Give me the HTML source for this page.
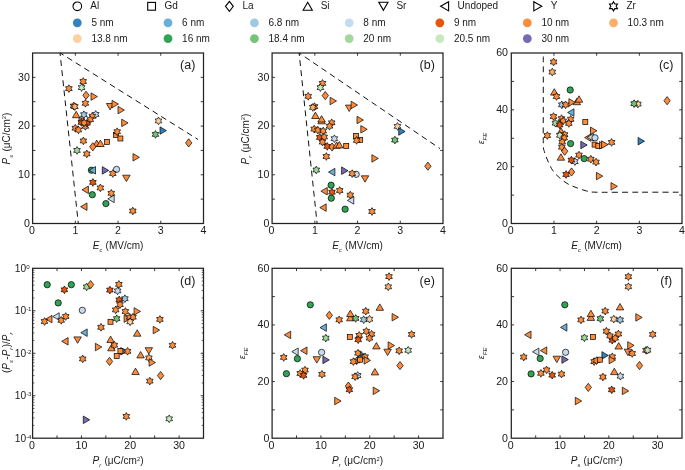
<!DOCTYPE html><html><head><meta charset="utf-8"><style>html,body{margin:0;padding:0;background:#fff;overflow:hidden}svg{display:block;will-change:transform}text{font-family:"Liberation Sans",sans-serif;fill:#1a1a1a}</style></head><body>
<svg width="685" height="470" viewBox="0 0 685 470">
<circle cx="77.3" cy="6.3" r="4.3" fill="none" stroke="#000" stroke-width="1.1"/>
<text x="90.3" y="9.2" font-size="10">Al</text>
<rect x="147.7" y="2.4" width="7.8" height="7.8" fill="none" stroke="#000" stroke-width="1.1"/>
<text x="164.6" y="9.2" font-size="10">Gd</text>
<polygon points="229.40,1.30 233.30,6.30 229.40,11.30 225.50,6.30" fill="none" stroke="#000" stroke-width="1.1" stroke-linejoin="miter"/>
<text x="242.4" y="9.2" font-size="10">La</text>
<polygon points="307.70,2.30 312.30,10.30 303.10,10.30" fill="none" stroke="#000" stroke-width="1.1" stroke-linejoin="miter"/>
<text x="320.7" y="9.2" font-size="10">Si</text>
<polygon points="383.40,10.30 388.00,2.30 378.80,2.30" fill="none" stroke="#000" stroke-width="1.1" stroke-linejoin="miter"/>
<text x="396.4" y="9.2" font-size="10">Sr</text>
<polygon points="440.60,6.30 448.60,1.70 448.60,10.90" fill="none" stroke="#000" stroke-width="1.1" stroke-linejoin="miter"/>
<text x="457.6" y="9.2" font-size="10">Undoped</text>
<polygon points="541.80,6.30 533.80,1.70 533.80,10.90" fill="none" stroke="#000" stroke-width="1.1" stroke-linejoin="miter"/>
<text x="550.8" y="9.2" font-size="10">Y</text>
<polygon points="613.50,1.70 614.83,4.00 617.48,4.00 616.16,6.30 617.48,8.60 614.83,8.60 613.50,10.90 612.17,8.60 609.52,8.60 610.84,6.30 609.52,4.00 612.17,4.00" fill="none" stroke="#000" stroke-width="1.1" stroke-linejoin="miter"/>
<text x="626.5" y="9.2" font-size="10">Zr</text>
<circle cx="77.3" cy="22.8" r="4.4" fill="#3182bd"/>
<text x="91.39999999999999" y="25.7" font-size="10">5 nm</text>
<circle cx="168" cy="22.8" r="4.4" fill="#6baed6"/>
<text x="182.1" y="25.7" font-size="10">6 nm</text>
<circle cx="254.4" cy="22.8" r="4.4" fill="#9ecae1"/>
<text x="268.5" y="25.7" font-size="10">6.8 nm</text>
<circle cx="349.2" cy="22.8" r="4.4" fill="#c6dbef"/>
<text x="363.3" y="25.7" font-size="10">8 nm</text>
<circle cx="439.8" cy="22.8" r="4.4" fill="#e6550d"/>
<text x="453.90000000000003" y="25.7" font-size="10">9 nm</text>
<circle cx="527.3" cy="22.8" r="4.4" fill="#fd8d3c"/>
<text x="541.4" y="25.7" font-size="10">10 nm</text>
<circle cx="613.5" cy="22.8" r="4.4" fill="#fdae6b"/>
<text x="627.6" y="25.7" font-size="10">10.3 nm</text>
<circle cx="77.3" cy="38.6" r="4.4" fill="#fdd0a2"/>
<text x="91.39999999999999" y="41.5" font-size="10">13.8 nm</text>
<circle cx="168" cy="38.6" r="4.4" fill="#31a354"/>
<text x="182.1" y="41.5" font-size="10">16 nm</text>
<circle cx="254.4" cy="38.6" r="4.4" fill="#74c476"/>
<text x="268.5" y="41.5" font-size="10">18.4 nm</text>
<circle cx="349.2" cy="38.6" r="4.4" fill="#a1d99b"/>
<text x="363.3" y="41.5" font-size="10">20 nm</text>
<circle cx="439.8" cy="38.6" r="4.4" fill="#c7e9c0"/>
<text x="453.90000000000003" y="41.5" font-size="10">20.5 nm</text>
<circle cx="527.3" cy="38.6" r="4.4" fill="#756bb1"/>
<text x="541.4" y="41.5" font-size="10">30 nm</text>
<rect x="32.6" y="53.0" width="170.9" height="170.5" fill="none" stroke="#222" stroke-width="1.25"/>
<line x1="75.33" y1="223.5" x2="75.33" y2="220.7" stroke="#222" stroke-width="0.9"/>
<line x1="75.33" y1="53.0" x2="75.33" y2="55.8" stroke="#222" stroke-width="0.9"/>
<line x1="118.05" y1="223.5" x2="118.05" y2="220.7" stroke="#222" stroke-width="0.9"/>
<line x1="118.05" y1="53.0" x2="118.05" y2="55.8" stroke="#222" stroke-width="0.9"/>
<line x1="160.78" y1="223.5" x2="160.78" y2="220.7" stroke="#222" stroke-width="0.9"/>
<line x1="160.78" y1="53.0" x2="160.78" y2="55.8" stroke="#222" stroke-width="0.9"/>
<line x1="32.6" y1="199.14" x2="35.4" y2="199.14" stroke="#222" stroke-width="0.9"/>
<line x1="203.5" y1="199.14" x2="200.7" y2="199.14" stroke="#222" stroke-width="0.9"/>
<line x1="32.6" y1="174.79" x2="35.4" y2="174.79" stroke="#222" stroke-width="0.9"/>
<line x1="203.5" y1="174.79" x2="200.7" y2="174.79" stroke="#222" stroke-width="0.9"/>
<line x1="32.6" y1="150.43" x2="35.4" y2="150.43" stroke="#222" stroke-width="0.9"/>
<line x1="203.5" y1="150.43" x2="200.7" y2="150.43" stroke="#222" stroke-width="0.9"/>
<line x1="32.6" y1="126.07" x2="35.4" y2="126.07" stroke="#222" stroke-width="0.9"/>
<line x1="203.5" y1="126.07" x2="200.7" y2="126.07" stroke="#222" stroke-width="0.9"/>
<line x1="32.6" y1="101.71" x2="35.4" y2="101.71" stroke="#222" stroke-width="0.9"/>
<line x1="203.5" y1="101.71" x2="200.7" y2="101.71" stroke="#222" stroke-width="0.9"/>
<line x1="32.6" y1="77.36" x2="35.4" y2="77.36" stroke="#222" stroke-width="0.9"/>
<line x1="203.5" y1="77.36" x2="200.7" y2="77.36" stroke="#222" stroke-width="0.9"/>
<path d="M60.00,53.00 L78.30,223.50" fill="none" stroke="#111" stroke-width="1.0" stroke-dasharray="5.9,4.2" stroke-dashoffset="2.9"/>
<path d="M60.20,53.00 L198.00,139.50" fill="none" stroke="#111" stroke-width="1.0" stroke-dasharray="5.9,4.2" stroke-dashoffset="1.9"/>
<polygon points="83.20,77.65 84.31,79.58 86.53,79.58 85.42,81.50 86.53,83.42 84.31,83.42 83.20,85.35 82.09,83.42 79.87,83.42 80.98,81.50 79.87,79.58 82.09,79.58" fill="#fd8d3c" stroke="#000" stroke-width="0.7" stroke-linejoin="miter"/>
<polygon points="81.60,83.75 82.71,85.67 84.93,85.67 83.82,87.60 84.93,89.52 82.71,89.52 81.60,91.45 80.49,89.52 78.27,89.52 79.38,87.60 78.27,85.67 80.49,85.67" fill="#c7e9c0" stroke="#000" stroke-width="0.7" stroke-linejoin="miter"/>
<polygon points="68.90,84.75 70.01,86.67 72.23,86.67 71.12,88.60 72.23,90.52 70.01,90.52 68.90,92.45 67.79,90.52 65.57,90.52 66.68,88.60 65.57,86.67 67.79,86.67" fill="#fd8d3c" stroke="#000" stroke-width="0.7" stroke-linejoin="miter"/>
<polygon points="86.00,91.20 89.15,95.30 86.00,99.40 82.85,95.30" fill="#fd8d3c" stroke="#000" stroke-width="0.7" stroke-linejoin="miter"/>
<polygon points="97.40,96.60 91.00,92.85 91.00,100.35" fill="#fd8d3c" stroke="#000" stroke-width="0.7" stroke-linejoin="miter"/>
<polygon points="85.40,99.45 86.51,101.38 88.73,101.38 87.62,103.30 88.73,105.22 86.51,105.22 85.40,107.15 84.29,105.22 82.07,105.22 83.18,103.30 82.07,101.38 84.29,101.38" fill="#fd8d3c" stroke="#000" stroke-width="0.7" stroke-linejoin="miter"/>
<polygon points="73.60,102.15 74.71,104.08 76.93,104.08 75.82,106.00 76.93,107.92 74.71,107.92 73.60,109.85 72.49,107.92 70.27,107.92 71.38,106.00 70.27,104.08 72.49,104.08" fill="#fd8d3c" stroke="#000" stroke-width="0.7" stroke-linejoin="miter"/>
<polygon points="74.80,102.75 75.91,104.67 78.13,104.67 77.02,106.60 78.13,108.52 75.91,108.52 74.80,110.45 73.69,108.52 71.47,108.52 72.58,106.60 71.47,104.67 73.69,104.67" fill="#fdae6b" stroke="#000" stroke-width="0.7" stroke-linejoin="miter"/>
<polygon points="110.10,109.90 113.85,103.50 106.35,103.50" fill="#fd8d3c" stroke="#000" stroke-width="0.7" stroke-linejoin="miter"/>
<polygon points="118.40,104.10 112.00,100.35 112.00,107.85" fill="#fd8d3c" stroke="#000" stroke-width="0.7" stroke-linejoin="miter"/>
<polygon points="124.40,110.10 118.00,106.35 118.00,113.85" fill="#fd8d3c" stroke="#000" stroke-width="0.7" stroke-linejoin="miter"/>
<polygon points="76.20,111.30 79.95,117.70 72.45,117.70" fill="#fd8d3c" stroke="#000" stroke-width="0.7" stroke-linejoin="miter"/>
<rect x="79.00" y="117.90" width="5.00" height="5.00" fill="#fd8d3c" stroke="#000" stroke-width="0.7" stroke-linejoin="miter"/>
<polygon points="83.90,110.85 85.01,112.78 87.23,112.78 86.12,114.70 87.23,116.62 85.01,116.62 83.90,118.55 82.79,116.62 80.57,116.62 81.68,114.70 80.57,112.78 82.79,112.78" fill="#9ecae1" stroke="#000" stroke-width="0.7" stroke-linejoin="miter"/>
<polygon points="95.70,110.55 96.81,112.48 99.03,112.48 97.92,114.40 99.03,116.33 96.81,116.33 95.70,118.25 94.59,116.33 92.37,116.33 93.48,114.40 92.37,112.48 94.59,112.48" fill="#c6dbef" stroke="#000" stroke-width="0.7" stroke-linejoin="miter"/>
<polygon points="92.30,112.45 93.41,114.38 95.63,114.38 94.52,116.30 95.63,118.22 93.41,118.22 92.30,120.15 91.19,118.22 88.97,118.22 90.08,116.30 88.97,114.38 91.19,114.38" fill="#fd8d3c" stroke="#000" stroke-width="0.7" stroke-linejoin="miter"/>
<polygon points="90.30,115.85 91.41,117.78 93.63,117.78 92.52,119.70 93.63,121.62 91.41,121.62 90.30,123.55 89.19,121.62 86.97,121.62 88.08,119.70 86.97,117.78 89.19,117.78" fill="#fd8d3c" stroke="#000" stroke-width="0.7" stroke-linejoin="miter"/>
<polygon points="85.40,122.45 86.51,124.38 88.73,124.38 87.62,126.30 88.73,128.22 86.51,128.22 85.40,130.15 84.29,128.22 82.07,128.22 83.18,126.30 82.07,124.38 84.29,124.38" fill="#fd8d3c" stroke="#000" stroke-width="0.7" stroke-linejoin="miter"/>
<polygon points="81.40,118.55 82.51,120.48 84.73,120.48 83.62,122.40 84.73,124.33 82.51,124.33 81.40,126.25 80.29,124.33 78.07,124.33 79.18,122.40 78.07,120.48 80.29,120.48" fill="#e6550d" stroke="#000" stroke-width="0.7" stroke-linejoin="miter"/>
<polygon points="87.00,119.35 88.11,121.28 90.33,121.28 89.22,123.20 90.33,125.12 88.11,125.12 87.00,127.05 85.89,125.12 83.67,125.12 84.78,123.20 83.67,121.28 85.89,121.28" fill="#e6550d" stroke="#000" stroke-width="0.7" stroke-linejoin="miter"/>
<polygon points="84.10,118.95 85.21,120.88 87.43,120.88 86.32,122.80 87.43,124.72 85.21,124.72 84.10,126.65 82.99,124.72 80.77,124.72 81.88,122.80 80.77,120.88 82.99,120.88" fill="#fd8d3c" stroke="#000" stroke-width="0.7" stroke-linejoin="miter"/>
<polygon points="75.30,124.35 76.41,126.27 78.63,126.27 77.52,128.20 78.63,130.12 76.41,130.12 75.30,132.05 74.19,130.12 71.97,130.12 73.08,128.20 71.97,126.27 74.19,126.27" fill="#fd8d3c" stroke="#000" stroke-width="0.7" stroke-linejoin="miter"/>
<polygon points="78.40,126.05 79.51,127.98 81.73,127.98 80.62,129.90 81.73,131.83 79.51,131.83 78.40,133.75 77.29,131.83 75.07,131.83 76.18,129.90 75.07,127.98 77.29,127.98" fill="#fd8d3c" stroke="#000" stroke-width="0.7" stroke-linejoin="miter"/>
<polygon points="128.10,122.90 121.70,119.15 121.70,126.65" fill="#fd8d3c" stroke="#000" stroke-width="0.7" stroke-linejoin="miter"/>
<rect x="113.50" y="132.50" width="5.00" height="5.00" fill="#fd8d3c" stroke="#000" stroke-width="0.7" stroke-linejoin="miter"/>
<rect x="117.90" y="136.00" width="5.00" height="5.00" fill="#fd8d3c" stroke="#000" stroke-width="0.7" stroke-linejoin="miter"/>
<polygon points="117.20,127.85 118.31,129.77 120.53,129.77 119.42,131.70 120.53,133.62 118.31,133.62 117.20,135.55 116.09,133.62 113.87,133.62 114.98,131.70 113.87,129.77 116.09,129.77" fill="#fd8d3c" stroke="#000" stroke-width="0.7" stroke-linejoin="miter"/>
<polygon points="158.50,117.05 159.61,118.98 161.83,118.98 160.72,120.90 161.83,122.83 159.61,122.83 158.50,124.75 157.39,122.83 155.17,122.83 156.28,120.90 155.17,118.98 157.39,118.98" fill="#fdd0a2" stroke="#000" stroke-width="0.7" stroke-linejoin="miter"/>
<polygon points="166.40,130.60 160.00,126.85 160.00,134.35" fill="#3182bd" stroke="#000" stroke-width="0.7" stroke-linejoin="miter"/>
<polygon points="155.50,130.55 156.61,132.47 158.83,132.47 157.72,134.40 158.83,136.33 156.61,136.33 155.50,138.25 154.39,136.33 152.17,136.33 153.28,134.40 152.17,132.47 154.39,132.47" fill="#74c476" stroke="#000" stroke-width="0.7" stroke-linejoin="miter"/>
<polygon points="188.70,138.80 191.85,142.90 188.70,147.00 185.55,142.90" fill="#fd8d3c" stroke="#000" stroke-width="0.7" stroke-linejoin="miter"/>
<polygon points="83.40,137.05 84.51,138.97 86.73,138.97 85.62,140.90 86.73,142.83 84.51,142.83 83.40,144.75 82.29,142.83 80.07,142.83 81.18,140.90 80.07,138.97 82.29,138.97" fill="#fd8d3c" stroke="#000" stroke-width="0.7" stroke-linejoin="miter"/>
<polygon points="96.70,140.10 100.45,146.50 92.95,146.50" fill="#fd8d3c" stroke="#000" stroke-width="0.7" stroke-linejoin="miter"/>
<polygon points="100.40,140.10 104.15,146.50 96.65,146.50" fill="#fd8d3c" stroke="#000" stroke-width="0.7" stroke-linejoin="miter"/>
<polygon points="92.80,142.70 95.95,146.80 92.80,150.90 89.65,146.80" fill="#fd8d3c" stroke="#000" stroke-width="0.7" stroke-linejoin="miter"/>
<rect x="104.50" y="139.40" width="5.00" height="5.00" fill="#fd8d3c" stroke="#000" stroke-width="0.7" stroke-linejoin="miter"/>
<polygon points="77.00,146.55 78.11,148.47 80.33,148.47 79.22,150.40 80.33,152.33 78.11,152.33 77.00,154.25 75.89,152.33 73.67,152.33 74.78,150.40 73.67,148.47 75.89,148.47" fill="#a1d99b" stroke="#000" stroke-width="0.7" stroke-linejoin="miter"/>
<polygon points="86.80,150.05 87.91,151.97 90.13,151.97 89.02,153.90 90.13,155.83 87.91,155.83 86.80,157.75 85.69,155.83 83.47,155.83 84.58,153.90 83.47,151.97 85.69,151.97" fill="#fd8d3c" stroke="#000" stroke-width="0.7" stroke-linejoin="miter"/>
<polygon points="139.40,157.30 133.00,153.55 133.00,161.05" fill="#fd8d3c" stroke="#000" stroke-width="0.7" stroke-linejoin="miter"/>
<circle cx="91.40" cy="170.20" r="3.15" fill="#31a354" stroke="#000" stroke-width="0.7" stroke-linejoin="miter"/>
<polygon points="89.10,170.30 95.50,166.55 95.50,174.05" fill="#6baed6" stroke="#000" stroke-width="0.7" stroke-linejoin="miter"/>
<polygon points="108.70,170.40 102.30,166.65 102.30,174.15" fill="#756bb1" stroke="#000" stroke-width="0.7" stroke-linejoin="miter"/>
<circle cx="116.50" cy="169.40" r="3.15" fill="#c6dbef" stroke="#000" stroke-width="0.7" stroke-linejoin="miter"/>
<polygon points="112.80,169.65 113.91,171.57 116.13,171.57 115.02,173.50 116.13,175.43 113.91,175.43 112.80,177.35 111.69,175.43 109.47,175.43 110.58,173.50 109.47,171.57 111.69,171.57" fill="#fd8d3c" stroke="#000" stroke-width="0.7" stroke-linejoin="miter"/>
<polygon points="126.40,181.60 130.15,175.20 122.65,175.20" fill="#fd8d3c" stroke="#000" stroke-width="0.7" stroke-linejoin="miter"/>
<polygon points="92.90,178.55 94.01,180.47 96.23,180.47 95.12,182.40 96.23,184.33 94.01,184.33 92.90,186.25 91.79,184.33 89.57,184.33 90.68,182.40 89.57,180.47 91.79,180.47" fill="#e6550d" stroke="#000" stroke-width="0.7" stroke-linejoin="miter"/>
<polygon points="100.40,184.05 101.51,185.97 103.73,185.97 102.62,187.90 103.73,189.83 101.51,189.83 100.40,191.75 99.29,189.83 97.07,189.83 98.18,187.90 97.07,185.97 99.29,185.97" fill="#fd8d3c" stroke="#000" stroke-width="0.7" stroke-linejoin="miter"/>
<polygon points="82.00,189.80 88.40,186.05 88.40,193.55" fill="#fd8d3c" stroke="#000" stroke-width="0.7" stroke-linejoin="miter"/>
<circle cx="92.30" cy="194.70" r="3.15" fill="#31a354" stroke="#000" stroke-width="0.7" stroke-linejoin="miter"/>
<polygon points="111.30,189.45 112.41,191.38 114.63,191.38 113.52,193.30 114.63,195.23 112.41,195.23 111.30,197.15 110.19,195.23 107.97,195.23 109.08,193.30 107.97,191.38 110.19,191.38" fill="#fd8d3c" stroke="#000" stroke-width="0.7" stroke-linejoin="miter"/>
<polygon points="107.80,198.90 114.20,195.15 114.20,202.65" fill="#c6dbef" stroke="#000" stroke-width="0.7" stroke-linejoin="miter"/>
<circle cx="105.90" cy="203.60" r="3.15" fill="#31a354" stroke="#000" stroke-width="0.7" stroke-linejoin="miter"/>
<polygon points="80.60,206.70 87.00,202.95 87.00,210.45" fill="#fd8d3c" stroke="#000" stroke-width="0.7" stroke-linejoin="miter"/>
<polygon points="132.80,207.15 133.91,209.07 136.13,209.07 135.02,211.00 136.13,212.93 133.91,212.93 132.80,214.85 131.69,212.93 129.47,212.93 130.58,211.00 129.47,209.07 131.69,209.07" fill="#fd8d3c" stroke="#000" stroke-width="0.7" stroke-linejoin="miter"/>
<text x="31.90" y="234.3" font-size="10.6" text-anchor="middle">0</text>
<text x="75.33" y="234.3" font-size="10.6" text-anchor="middle">1</text>
<text x="118.05" y="234.3" font-size="10.6" text-anchor="middle">2</text>
<text x="160.78" y="234.3" font-size="10.6" text-anchor="middle">3</text>
<text x="203.50" y="234.3" font-size="10.6" text-anchor="middle">4</text>
<text x="29.80" y="226.90" font-size="10.6" text-anchor="end">0</text>
<text x="29.80" y="178.19" font-size="10.6" text-anchor="end">10</text>
<text x="29.80" y="129.47" font-size="10.6" text-anchor="end">20</text>
<text x="29.80" y="80.76" font-size="10.6" text-anchor="end">30</text>
<text x="187.70" y="69.20" font-size="12.5" text-anchor="middle">(a)</text>
<text x="118.05" y="248.60" font-size="10" text-anchor="middle"><tspan font-style="italic">E</tspan><tspan font-size="5.6" dy="3" font-style="italic">c</tspan><tspan dy="-3" dx="0.6"> (MV/cm)</tspan></text>
<text transform="translate(9.60,138.50) rotate(-90)" font-size="10" text-anchor="middle"><tspan font-style="italic">P</tspan><tspan font-size="5.6" dy="3" font-style="italic">s</tspan><tspan dy="-3" dx="0.6"> (μC/cm</tspan><tspan font-size="5.8" dy="-3.6">2</tspan><tspan dy="3.6">)</tspan></text>
<rect x="272.1" y="53.0" width="170.89999999999998" height="170.5" fill="none" stroke="#222" stroke-width="1.25"/>
<line x1="314.83" y1="223.5" x2="314.83" y2="220.7" stroke="#222" stroke-width="0.9"/>
<line x1="314.83" y1="53.0" x2="314.83" y2="55.8" stroke="#222" stroke-width="0.9"/>
<line x1="357.55" y1="223.5" x2="357.55" y2="220.7" stroke="#222" stroke-width="0.9"/>
<line x1="357.55" y1="53.0" x2="357.55" y2="55.8" stroke="#222" stroke-width="0.9"/>
<line x1="400.27" y1="223.5" x2="400.27" y2="220.7" stroke="#222" stroke-width="0.9"/>
<line x1="400.27" y1="53.0" x2="400.27" y2="55.8" stroke="#222" stroke-width="0.9"/>
<line x1="272.1" y1="199.14" x2="274.90000000000003" y2="199.14" stroke="#222" stroke-width="0.9"/>
<line x1="443.0" y1="199.14" x2="440.2" y2="199.14" stroke="#222" stroke-width="0.9"/>
<line x1="272.1" y1="174.79" x2="274.90000000000003" y2="174.79" stroke="#222" stroke-width="0.9"/>
<line x1="443.0" y1="174.79" x2="440.2" y2="174.79" stroke="#222" stroke-width="0.9"/>
<line x1="272.1" y1="150.43" x2="274.90000000000003" y2="150.43" stroke="#222" stroke-width="0.9"/>
<line x1="443.0" y1="150.43" x2="440.2" y2="150.43" stroke="#222" stroke-width="0.9"/>
<line x1="272.1" y1="126.07" x2="274.90000000000003" y2="126.07" stroke="#222" stroke-width="0.9"/>
<line x1="443.0" y1="126.07" x2="440.2" y2="126.07" stroke="#222" stroke-width="0.9"/>
<line x1="272.1" y1="101.71" x2="274.90000000000003" y2="101.71" stroke="#222" stroke-width="0.9"/>
<line x1="443.0" y1="101.71" x2="440.2" y2="101.71" stroke="#222" stroke-width="0.9"/>
<line x1="272.1" y1="77.36" x2="274.90000000000003" y2="77.36" stroke="#222" stroke-width="0.9"/>
<line x1="443.0" y1="77.36" x2="440.2" y2="77.36" stroke="#222" stroke-width="0.9"/>
<path d="M299.10,53.00 L317.10,223.50" fill="none" stroke="#111" stroke-width="1.0" stroke-dasharray="5.9,4.2" stroke-dashoffset="2.9"/>
<path d="M299.10,53.00 L440.00,148.60" fill="none" stroke="#111" stroke-width="1.0" stroke-dasharray="5.9,4.2" stroke-dashoffset="3.2"/>
<polygon points="322.50,79.55 323.61,81.48 325.83,81.48 324.72,83.40 325.83,85.33 323.61,85.33 322.50,87.25 321.39,85.33 319.17,85.33 320.28,83.40 319.17,81.48 321.39,81.48" fill="#fd8d3c" stroke="#000" stroke-width="0.7" stroke-linejoin="miter"/>
<polygon points="320.40,83.75 321.51,85.67 323.73,85.67 322.62,87.60 323.73,89.52 321.51,89.52 320.40,91.45 319.29,89.52 317.07,89.52 318.18,87.60 317.07,85.67 319.29,85.67" fill="#c7e9c0" stroke="#000" stroke-width="0.7" stroke-linejoin="miter"/>
<polygon points="308.20,92.45 309.31,94.38 311.53,94.38 310.42,96.30 311.53,98.22 309.31,98.22 308.20,100.15 307.09,98.22 304.87,98.22 305.98,96.30 304.87,94.38 307.09,94.38" fill="#fd8d3c" stroke="#000" stroke-width="0.7" stroke-linejoin="miter"/>
<polygon points="325.30,91.50 328.45,95.60 325.30,99.70 322.15,95.60" fill="#fd8d3c" stroke="#000" stroke-width="0.7" stroke-linejoin="miter"/>
<polygon points="336.50,101.00 330.10,97.25 330.10,104.75" fill="#fd8d3c" stroke="#000" stroke-width="0.7" stroke-linejoin="miter"/>
<polygon points="314.50,102.75 315.61,104.67 317.83,104.67 316.72,106.60 317.83,108.52 315.61,108.52 314.50,110.45 313.39,108.52 311.17,108.52 312.28,106.60 311.17,104.67 313.39,104.67" fill="#fd8d3c" stroke="#000" stroke-width="0.7" stroke-linejoin="miter"/>
<polygon points="312.80,103.55 313.91,105.48 316.13,105.48 315.02,107.40 316.13,109.33 313.91,109.33 312.80,111.25 311.69,109.33 309.47,109.33 310.58,107.40 309.47,105.48 311.69,105.48" fill="#fdae6b" stroke="#000" stroke-width="0.7" stroke-linejoin="miter"/>
<polygon points="315.40,112.10 319.15,118.50 311.65,118.50" fill="#fd8d3c" stroke="#000" stroke-width="0.7" stroke-linejoin="miter"/>
<polygon points="321.60,117.40 325.35,123.80 317.85,123.80" fill="#fd8d3c" stroke="#000" stroke-width="0.7" stroke-linejoin="miter"/>
<polygon points="321.60,115.60 325.35,122.00 317.85,122.00" fill="#fd8d3c" stroke="#000" stroke-width="0.7" stroke-linejoin="miter"/>
<polygon points="331.70,118.95 332.81,120.88 335.03,120.88 333.92,122.80 335.03,124.72 332.81,124.72 331.70,126.65 330.59,124.72 328.37,124.72 329.48,122.80 328.37,120.88 330.59,120.88" fill="#fd8d3c" stroke="#000" stroke-width="0.7" stroke-linejoin="miter"/>
<polygon points="329.50,122.35 330.61,124.28 332.83,124.28 331.72,126.20 332.83,128.12 330.61,128.12 329.50,130.05 328.39,128.12 326.17,128.12 327.28,126.20 326.17,124.28 328.39,124.28" fill="#fd8d3c" stroke="#000" stroke-width="0.7" stroke-linejoin="miter"/>
<polygon points="314.20,125.25 315.31,127.17 317.53,127.17 316.42,129.10 317.53,131.03 315.31,131.03 314.20,132.95 313.09,131.03 310.87,131.03 311.98,129.10 310.87,127.17 313.09,127.17" fill="#fd8d3c" stroke="#000" stroke-width="0.7" stroke-linejoin="miter"/>
<polygon points="317.80,126.35 318.91,128.27 321.13,128.27 320.02,130.20 321.13,132.12 318.91,132.12 317.80,134.05 316.69,132.12 314.47,132.12 315.58,130.20 314.47,128.27 316.69,128.27" fill="#fd8d3c" stroke="#000" stroke-width="0.7" stroke-linejoin="miter"/>
<polygon points="323.20,127.15 324.31,129.07 326.53,129.07 325.42,131.00 326.53,132.93 324.31,132.93 323.20,134.85 322.09,132.93 319.87,132.93 320.98,131.00 319.87,129.07 322.09,129.07" fill="#fd8d3c" stroke="#000" stroke-width="0.7" stroke-linejoin="miter"/>
<polygon points="349.20,111.50 352.95,105.10 345.45,105.10" fill="#fd8d3c" stroke="#000" stroke-width="0.7" stroke-linejoin="miter"/>
<polygon points="357.50,105.00 351.10,101.25 351.10,108.75" fill="#fd8d3c" stroke="#000" stroke-width="0.7" stroke-linejoin="miter"/>
<polygon points="363.40,120.00 357.00,116.25 357.00,123.75" fill="#fd8d3c" stroke="#000" stroke-width="0.7" stroke-linejoin="miter"/>
<polygon points="367.20,129.30 360.80,125.55 360.80,133.05" fill="#fd8d3c" stroke="#000" stroke-width="0.7" stroke-linejoin="miter"/>
<rect x="353.50" y="133.50" width="5.00" height="5.00" fill="#fd8d3c" stroke="#000" stroke-width="0.7" stroke-linejoin="miter"/>
<rect x="357.70" y="137.30" width="5.00" height="5.00" fill="#fd8d3c" stroke="#000" stroke-width="0.7" stroke-linejoin="miter"/>
<polygon points="356.60,136.55 357.71,138.47 359.93,138.47 358.82,140.40 359.93,142.33 357.71,142.33 356.60,144.25 355.49,142.33 353.27,142.33 354.38,140.40 353.27,138.47 355.49,138.47" fill="#fd8d3c" stroke="#000" stroke-width="0.7" stroke-linejoin="miter"/>
<rect x="343.70" y="143.40" width="5.00" height="5.00" fill="#fd8d3c" stroke="#000" stroke-width="0.7" stroke-linejoin="miter"/>
<polygon points="397.50,122.55 398.61,124.48 400.83,124.48 399.72,126.40 400.83,128.33 398.61,128.33 397.50,130.25 396.39,128.33 394.17,128.33 395.28,126.40 394.17,124.48 396.39,124.48" fill="#fdd0a2" stroke="#000" stroke-width="0.7" stroke-linejoin="miter"/>
<polygon points="405.10,131.50 398.70,127.75 398.70,135.25" fill="#3182bd" stroke="#000" stroke-width="0.7" stroke-linejoin="miter"/>
<polygon points="394.90,136.25 396.01,138.17 398.23,138.17 397.12,140.10 398.23,142.03 396.01,142.03 394.90,143.95 393.79,142.03 391.57,142.03 392.68,140.10 391.57,138.17 393.79,138.17" fill="#74c476" stroke="#000" stroke-width="0.7" stroke-linejoin="miter"/>
<polygon points="427.90,162.10 431.05,166.20 427.90,170.30 424.75,166.20" fill="#fd8d3c" stroke="#000" stroke-width="0.7" stroke-linejoin="miter"/>
<polygon points="319.70,133.55 320.81,135.47 323.03,135.47 321.92,137.40 323.03,139.33 320.81,139.33 319.70,141.25 318.59,139.33 316.37,139.33 317.48,137.40 316.37,135.47 318.59,135.47" fill="#e6550d" stroke="#000" stroke-width="0.7" stroke-linejoin="miter"/>
<polygon points="324.20,133.15 325.31,135.07 327.53,135.07 326.42,137.00 327.53,138.93 325.31,138.93 324.20,140.85 323.09,138.93 320.87,138.93 321.98,137.00 320.87,135.07 323.09,135.07" fill="#fd8d3c" stroke="#000" stroke-width="0.7" stroke-linejoin="miter"/>
<polygon points="334.40,134.85 335.51,136.77 337.73,136.77 336.62,138.70 337.73,140.62 335.51,140.62 334.40,142.55 333.29,140.62 331.07,140.62 332.18,138.70 331.07,136.77 333.29,136.77" fill="#c6dbef" stroke="#000" stroke-width="0.7" stroke-linejoin="miter"/>
<polygon points="322.50,138.25 323.61,140.17 325.83,140.17 324.72,142.10 325.83,144.03 323.61,144.03 322.50,145.95 321.39,144.03 319.17,144.03 320.28,142.10 319.17,140.17 321.39,140.17" fill="#fd8d3c" stroke="#000" stroke-width="0.7" stroke-linejoin="miter"/>
<polygon points="327.20,142.55 328.31,144.47 330.53,144.47 329.42,146.40 330.53,148.33 328.31,148.33 327.20,150.25 326.09,148.33 323.87,148.33 324.98,146.40 323.87,144.47 326.09,144.47" fill="#e6550d" stroke="#000" stroke-width="0.7" stroke-linejoin="miter"/>
<polygon points="332.10,142.90 335.25,147.00 332.10,151.10 328.95,147.00" fill="#fd8d3c" stroke="#000" stroke-width="0.7" stroke-linejoin="miter"/>
<polygon points="336.60,141.90 340.35,148.30 332.85,148.30" fill="#fd8d3c" stroke="#000" stroke-width="0.7" stroke-linejoin="miter"/>
<polygon points="339.30,141.50 343.05,147.90 335.55,147.90" fill="#fd8d3c" stroke="#000" stroke-width="0.7" stroke-linejoin="miter"/>
<polygon points="326.30,152.65 327.41,154.57 329.63,154.57 328.52,156.50 329.63,158.43 327.41,158.43 326.30,160.35 325.19,158.43 322.97,158.43 324.08,156.50 322.97,154.57 325.19,154.57" fill="#fd8d3c" stroke="#000" stroke-width="0.7" stroke-linejoin="miter"/>
<polygon points="378.30,158.40 371.90,154.65 371.90,162.15" fill="#fd8d3c" stroke="#000" stroke-width="0.7" stroke-linejoin="miter"/>
<polygon points="316.30,166.15 317.41,168.07 319.63,168.07 318.52,170.00 319.63,171.93 317.41,171.93 316.30,173.85 315.19,171.93 312.97,171.93 314.08,170.00 312.97,168.07 315.19,168.07" fill="#a1d99b" stroke="#000" stroke-width="0.7" stroke-linejoin="miter"/>
<polygon points="328.50,172.10 334.90,168.35 334.90,175.85" fill="#6baed6" stroke="#000" stroke-width="0.7" stroke-linejoin="miter"/>
<polygon points="348.00,170.70 341.60,166.95 341.60,174.45" fill="#756bb1" stroke="#000" stroke-width="0.7" stroke-linejoin="miter"/>
<circle cx="356.20" cy="174.30" r="3.15" fill="#c6dbef" stroke="#000" stroke-width="0.7" stroke-linejoin="miter"/>
<polygon points="352.20,169.75 353.31,171.67 355.53,171.67 354.42,173.60 355.53,175.53 353.31,175.53 352.20,177.45 351.09,175.53 348.87,175.53 349.98,173.60 348.87,171.67 351.09,171.67" fill="#fd8d3c" stroke="#000" stroke-width="0.7" stroke-linejoin="miter"/>
<polygon points="365.00,182.20 368.75,175.80 361.25,175.80" fill="#fd8d3c" stroke="#000" stroke-width="0.7" stroke-linejoin="miter"/>
<circle cx="331.10" cy="185.20" r="3.15" fill="#31a354" stroke="#000" stroke-width="0.7" stroke-linejoin="miter"/>
<polygon points="320.90,191.20 327.30,187.45 327.30,194.95" fill="#fd8d3c" stroke="#000" stroke-width="0.7" stroke-linejoin="miter"/>
<polygon points="332.00,188.35 333.11,190.27 335.33,190.27 334.22,192.20 335.33,194.12 333.11,194.12 332.00,196.05 330.89,194.12 328.67,194.12 329.78,192.20 328.67,190.27 330.89,190.27" fill="#e6550d" stroke="#000" stroke-width="0.7" stroke-linejoin="miter"/>
<polygon points="339.70,186.65 340.81,188.57 343.03,188.57 341.92,190.50 343.03,192.43 340.81,192.43 339.70,194.35 338.59,192.43 336.37,192.43 337.48,190.50 336.37,188.57 338.59,188.57" fill="#fd8d3c" stroke="#000" stroke-width="0.7" stroke-linejoin="miter"/>
<circle cx="331.30" cy="198.20" r="3.15" fill="#31a354" stroke="#000" stroke-width="0.7" stroke-linejoin="miter"/>
<polygon points="350.30,191.25 351.41,193.17 353.63,193.17 352.52,195.10 353.63,197.03 351.41,197.03 350.30,198.95 349.19,197.03 346.97,197.03 348.08,195.10 346.97,193.17 349.19,193.17" fill="#fd8d3c" stroke="#000" stroke-width="0.7" stroke-linejoin="miter"/>
<polygon points="347.40,200.40 353.80,196.65 353.80,204.15" fill="#c6dbef" stroke="#000" stroke-width="0.7" stroke-linejoin="miter"/>
<polygon points="319.80,207.60 326.20,203.85 326.20,211.35" fill="#fd8d3c" stroke="#000" stroke-width="0.7" stroke-linejoin="miter"/>
<circle cx="345.10" cy="209.20" r="3.15" fill="#31a354" stroke="#000" stroke-width="0.7" stroke-linejoin="miter"/>
<polygon points="372.00,207.65 373.11,209.57 375.33,209.57 374.22,211.50 375.33,213.43 373.11,213.43 372.00,215.35 370.89,213.43 368.67,213.43 369.78,211.50 368.67,209.57 370.89,209.57" fill="#fd8d3c" stroke="#000" stroke-width="0.7" stroke-linejoin="miter"/>
<text x="271.40" y="234.3" font-size="10.6" text-anchor="middle">0</text>
<text x="314.83" y="234.3" font-size="10.6" text-anchor="middle">1</text>
<text x="357.55" y="234.3" font-size="10.6" text-anchor="middle">2</text>
<text x="400.27" y="234.3" font-size="10.6" text-anchor="middle">3</text>
<text x="443.00" y="234.3" font-size="10.6" text-anchor="middle">4</text>
<text x="269.30" y="226.90" font-size="10.6" text-anchor="end">0</text>
<text x="269.30" y="178.19" font-size="10.6" text-anchor="end">10</text>
<text x="269.30" y="129.47" font-size="10.6" text-anchor="end">20</text>
<text x="269.30" y="80.76" font-size="10.6" text-anchor="end">30</text>
<text x="427.20" y="69.20" font-size="12.5" text-anchor="middle">(b)</text>
<text x="357.55" y="248.60" font-size="10" text-anchor="middle"><tspan font-style="italic">E</tspan><tspan font-size="5.6" dy="3" font-style="italic">c</tspan><tspan dy="-3" dx="0.6"> (MV/cm)</tspan></text>
<text transform="translate(248.80,139.00) rotate(-90)" font-size="10" text-anchor="middle"><tspan font-style="italic">P</tspan><tspan font-size="5.6" dy="3" font-style="italic">r</tspan><tspan dy="-3" dx="0.6"> (μC/cm</tspan><tspan font-size="5.8" dy="-3.6">2</tspan><tspan dy="3.6">)</tspan></text>
<rect x="511.3" y="53.0" width="170.7" height="170.5" fill="none" stroke="#222" stroke-width="1.25"/>
<line x1="553.98" y1="223.5" x2="553.98" y2="220.7" stroke="#222" stroke-width="0.9"/>
<line x1="553.98" y1="53.0" x2="553.98" y2="55.8" stroke="#222" stroke-width="0.9"/>
<line x1="596.65" y1="223.5" x2="596.65" y2="220.7" stroke="#222" stroke-width="0.9"/>
<line x1="596.65" y1="53.0" x2="596.65" y2="55.8" stroke="#222" stroke-width="0.9"/>
<line x1="639.33" y1="223.5" x2="639.33" y2="220.7" stroke="#222" stroke-width="0.9"/>
<line x1="639.33" y1="53.0" x2="639.33" y2="55.8" stroke="#222" stroke-width="0.9"/>
<line x1="511.3" y1="195.08" x2="514.1" y2="195.08" stroke="#222" stroke-width="0.9"/>
<line x1="682.0" y1="195.08" x2="679.2" y2="195.08" stroke="#222" stroke-width="0.9"/>
<line x1="511.3" y1="166.67" x2="514.1" y2="166.67" stroke="#222" stroke-width="0.9"/>
<line x1="682.0" y1="166.67" x2="679.2" y2="166.67" stroke="#222" stroke-width="0.9"/>
<line x1="511.3" y1="138.25" x2="514.1" y2="138.25" stroke="#222" stroke-width="0.9"/>
<line x1="682.0" y1="138.25" x2="679.2" y2="138.25" stroke="#222" stroke-width="0.9"/>
<line x1="511.3" y1="109.83" x2="514.1" y2="109.83" stroke="#222" stroke-width="0.9"/>
<line x1="682.0" y1="109.83" x2="679.2" y2="109.83" stroke="#222" stroke-width="0.9"/>
<line x1="511.3" y1="81.42" x2="514.1" y2="81.42" stroke="#222" stroke-width="0.9"/>
<line x1="682.0" y1="81.42" x2="679.2" y2="81.42" stroke="#222" stroke-width="0.9"/>
<path d="M543.30,56.50 C543.30,63.75 543.30,85.58 543.30,100.00 C543.30,114.42 543.12,134.40 543.30,143.00 C543.48,151.60 543.63,148.60 544.40,151.60 C545.17,154.60 546.47,157.78 547.90,161.00 C549.33,164.22 551.00,168.05 553.00,170.90 C555.00,173.75 557.40,175.92 559.90,178.10 C562.40,180.28 565.08,182.35 568.00,184.00 C570.92,185.65 574.28,186.83 577.40,188.00 C580.52,189.17 583.60,190.30 586.70,191.00 C589.80,191.70 587.12,192.00 596.00,192.20 C604.88,192.40 625.67,192.20 640.00,192.20 C654.33,192.20 675.00,192.20 682.00,192.20" fill="none" stroke="#111" stroke-width="1.0" stroke-dasharray="5.9,4.2"/>
<polygon points="553.60,58.15 554.71,60.08 556.93,60.08 555.82,62.00 556.93,63.92 554.71,63.92 553.60,65.85 552.49,63.92 550.27,63.92 551.38,62.00 550.27,60.08 552.49,60.08" fill="#fd8d3c" stroke="#000" stroke-width="0.7" stroke-linejoin="miter"/>
<polygon points="552.30,68.25 553.41,70.17 555.63,70.17 554.52,72.10 555.63,74.02 553.41,74.02 552.30,75.95 551.19,74.02 548.97,74.02 550.08,72.10 548.97,70.17 551.19,70.17" fill="#fdae6b" stroke="#000" stroke-width="0.7" stroke-linejoin="miter"/>
<circle cx="570.20" cy="90.00" r="3.15" fill="#31a354" stroke="#000" stroke-width="0.7" stroke-linejoin="miter"/>
<polygon points="554.30,88.70 558.05,95.10 550.55,95.10" fill="#fd8d3c" stroke="#000" stroke-width="0.7" stroke-linejoin="miter"/>
<polygon points="556.50,92.65 557.61,94.58 559.83,94.58 558.72,96.50 559.83,98.42 557.61,98.42 556.50,100.35 555.39,98.42 553.17,98.42 554.28,96.50 553.17,94.58 555.39,94.58" fill="#fd8d3c" stroke="#000" stroke-width="0.7" stroke-linejoin="miter"/>
<polygon points="576.80,98.30 580.55,104.70 573.05,104.70" fill="#fd8d3c" stroke="#000" stroke-width="0.7" stroke-linejoin="miter"/>
<polygon points="579.00,95.80 582.75,102.20 575.25,102.20" fill="#fd8d3c" stroke="#000" stroke-width="0.7" stroke-linejoin="miter"/>
<polygon points="575.30,102.40 568.90,98.65 568.90,106.15" fill="#fd8d3c" stroke="#000" stroke-width="0.7" stroke-linejoin="miter"/>
<polygon points="561.80,100.95 562.91,102.88 565.13,102.88 564.02,104.80 565.13,106.72 562.91,106.72 561.80,108.65 560.69,106.72 558.47,106.72 559.58,104.80 558.47,102.88 560.69,102.88" fill="#9ecae1" stroke="#000" stroke-width="0.7" stroke-linejoin="miter"/>
<polygon points="565.60,100.95 566.71,102.88 568.93,102.88 567.82,104.80 568.93,106.72 566.71,106.72 565.60,108.65 564.49,106.72 562.27,106.72 563.38,104.80 562.27,102.88 564.49,102.88" fill="#fd8d3c" stroke="#000" stroke-width="0.7" stroke-linejoin="miter"/>
<polygon points="567.60,112.50 574.00,108.75 574.00,116.25" fill="#6baed6" stroke="#000" stroke-width="0.7" stroke-linejoin="miter"/>
<polygon points="553.50,112.65 554.61,114.58 556.83,114.58 555.72,116.50 556.83,118.42 554.61,118.42 553.50,120.35 552.39,118.42 550.17,118.42 551.28,116.50 550.17,114.58 552.39,114.58" fill="#fd8d3c" stroke="#000" stroke-width="0.7" stroke-linejoin="miter"/>
<polygon points="561.50,114.75 562.61,116.67 564.83,116.67 563.72,118.60 564.83,120.52 562.61,120.52 561.50,122.45 560.39,120.52 558.17,120.52 559.28,118.60 558.17,116.67 560.39,116.67" fill="#fd8d3c" stroke="#000" stroke-width="0.7" stroke-linejoin="miter"/>
<polygon points="563.20,117.15 564.31,119.08 566.53,119.08 565.42,121.00 566.53,122.92 564.31,122.92 563.20,124.85 562.09,122.92 559.87,122.92 560.98,121.00 559.87,119.08 562.09,119.08" fill="#fd8d3c" stroke="#000" stroke-width="0.7" stroke-linejoin="miter"/>
<polygon points="570.70,115.45 571.81,117.38 574.03,117.38 572.92,119.30 574.03,121.22 571.81,121.22 570.70,123.15 569.59,121.22 567.37,121.22 568.48,119.30 567.37,117.38 569.59,117.38" fill="#fd8d3c" stroke="#000" stroke-width="0.7" stroke-linejoin="miter"/>
<polygon points="568.80,119.55 569.91,121.48 572.13,121.48 571.02,123.40 572.13,125.33 569.91,125.33 568.80,127.25 567.69,125.33 565.47,125.33 566.58,123.40 565.47,121.48 567.69,121.48" fill="#fd8d3c" stroke="#000" stroke-width="0.7" stroke-linejoin="miter"/>
<polygon points="555.40,119.35 556.51,121.28 558.73,121.28 557.62,123.20 558.73,125.12 556.51,125.12 555.40,127.05 554.29,125.12 552.07,125.12 553.18,123.20 552.07,121.28 554.29,121.28" fill="#a1d99b" stroke="#000" stroke-width="0.7" stroke-linejoin="miter"/>
<polygon points="559.70,121.05 560.81,122.98 563.03,122.98 561.92,124.90 563.03,126.83 560.81,126.83 559.70,128.75 558.59,126.83 556.37,126.83 557.48,124.90 556.37,122.98 558.59,122.98" fill="#e6550d" stroke="#000" stroke-width="0.7" stroke-linejoin="miter"/>
<polygon points="561.00,127.80 564.75,134.20 557.25,134.20" fill="#fd8d3c" stroke="#000" stroke-width="0.7" stroke-linejoin="miter"/>
<polygon points="547.30,131.65 548.41,133.57 550.63,133.57 549.52,135.50 550.63,137.43 548.41,137.43 547.30,139.35 546.19,137.43 543.97,137.43 545.08,135.50 543.97,133.57 546.19,133.57" fill="#fd8d3c" stroke="#000" stroke-width="0.7" stroke-linejoin="miter"/>
<polygon points="564.60,130.75 565.71,132.67 567.93,132.67 566.82,134.60 567.93,136.53 565.71,136.53 564.60,138.45 563.49,136.53 561.27,136.53 562.38,134.60 561.27,132.67 563.49,132.67" fill="#fd8d3c" stroke="#000" stroke-width="0.7" stroke-linejoin="miter"/>
<polygon points="559.80,131.45 560.91,133.38 563.13,133.38 562.02,135.30 563.13,137.23 560.91,137.23 559.80,139.15 558.69,137.23 556.47,137.23 557.58,135.30 556.47,133.38 558.69,133.38" fill="#c7e9c0" stroke="#000" stroke-width="0.7" stroke-linejoin="miter"/>
<polygon points="564.20,134.15 565.31,136.07 567.53,136.07 566.42,138.00 567.53,139.93 565.31,139.93 564.20,141.85 563.09,139.93 560.87,139.93 561.98,138.00 560.87,136.07 563.09,136.07" fill="#fd8d3c" stroke="#000" stroke-width="0.7" stroke-linejoin="miter"/>
<polygon points="562.20,138.15 563.31,140.07 565.53,140.07 564.42,142.00 565.53,143.93 563.31,143.93 562.20,145.85 561.09,143.93 558.87,143.93 559.98,142.00 558.87,140.07 561.09,140.07" fill="#fd8d3c" stroke="#000" stroke-width="0.7" stroke-linejoin="miter"/>
<circle cx="570.60" cy="143.60" r="3.15" fill="#31a354" stroke="#000" stroke-width="0.7" stroke-linejoin="miter"/>
<polygon points="561.80,143.35 562.91,145.27 565.13,145.27 564.02,147.20 565.13,149.12 562.91,149.12 561.80,151.05 560.69,149.12 558.47,149.12 559.58,147.20 558.47,145.27 560.69,145.27" fill="#fd8d3c" stroke="#000" stroke-width="0.7" stroke-linejoin="miter"/>
<polygon points="564.70,147.10 567.85,151.20 564.70,155.30 561.55,151.20" fill="#fd8d3c" stroke="#000" stroke-width="0.7" stroke-linejoin="miter"/>
<polygon points="560.90,153.80 564.65,160.20 557.15,160.20" fill="#fd8d3c" stroke="#000" stroke-width="0.7" stroke-linejoin="miter"/>
<polygon points="637.90,100.25 639.01,102.17 641.23,102.17 640.12,104.10 641.23,106.02 639.01,106.02 637.90,107.95 636.79,106.02 634.57,106.02 635.68,104.10 634.57,102.17 636.79,102.17" fill="#fdd0a2" stroke="#000" stroke-width="0.7" stroke-linejoin="miter"/>
<polygon points="634.10,99.85 635.21,101.78 637.43,101.78 636.32,103.70 637.43,105.62 635.21,105.62 634.10,107.55 632.99,105.62 630.77,105.62 631.88,103.70 630.77,101.78 632.99,101.78" fill="#74c476" stroke="#000" stroke-width="0.7" stroke-linejoin="miter"/>
<polygon points="667.10,96.60 670.25,100.70 667.10,104.80 663.95,100.70" fill="#fd8d3c" stroke="#000" stroke-width="0.7" stroke-linejoin="miter"/>
<polygon points="644.50,141.20 638.10,137.45 638.10,144.95" fill="#3182bd" stroke="#000" stroke-width="0.7" stroke-linejoin="miter"/>
<rect x="582.80" y="119.60" width="5.00" height="5.00" fill="#fd8d3c" stroke="#000" stroke-width="0.7" stroke-linejoin="miter"/>
<polygon points="596.90,130.80 590.50,127.05 590.50,134.55" fill="#fd8d3c" stroke="#000" stroke-width="0.7" stroke-linejoin="miter"/>
<polygon points="584.60,137.60 591.00,133.85 591.00,141.35" fill="#fd8d3c" stroke="#000" stroke-width="0.7" stroke-linejoin="miter"/>
<polygon points="587.10,137.30 593.50,133.55 593.50,141.05" fill="#c6dbef" stroke="#000" stroke-width="0.7" stroke-linejoin="miter"/>
<circle cx="595.00" cy="137.80" r="3.15" fill="#c6dbef" stroke="#000" stroke-width="0.7" stroke-linejoin="miter"/>
<polygon points="587.20,145.00 580.80,141.25 580.80,148.75" fill="#756bb1" stroke="#000" stroke-width="0.7" stroke-linejoin="miter"/>
<rect x="592.10" y="142.10" width="5.00" height="5.00" fill="#fd8d3c" stroke="#000" stroke-width="0.7" stroke-linejoin="miter"/>
<rect x="595.80" y="143.60" width="5.00" height="5.00" fill="#fd8d3c" stroke="#000" stroke-width="0.7" stroke-linejoin="miter"/>
<polygon points="605.90,145.30 599.50,141.55 599.50,149.05" fill="#fd8d3c" stroke="#000" stroke-width="0.7" stroke-linejoin="miter"/>
<polygon points="608.00,144.60 601.60,140.85 601.60,148.35" fill="#fd8d3c" stroke="#000" stroke-width="0.7" stroke-linejoin="miter"/>
<polygon points="611.60,138.55 612.71,140.47 614.93,140.47 613.82,142.40 614.93,144.33 612.71,144.33 611.60,146.25 610.49,144.33 608.27,144.33 609.38,142.40 608.27,140.47 610.49,140.47" fill="#fd8d3c" stroke="#000" stroke-width="0.7" stroke-linejoin="miter"/>
<polygon points="579.00,151.25 580.11,153.17 582.33,153.17 581.22,155.10 582.33,157.03 580.11,157.03 579.00,158.95 577.89,157.03 575.67,157.03 576.78,155.10 575.67,153.17 577.89,153.17" fill="#fd8d3c" stroke="#000" stroke-width="0.7" stroke-linejoin="miter"/>
<circle cx="584.10" cy="158.60" r="3.15" fill="#31a354" stroke="#000" stroke-width="0.7" stroke-linejoin="miter"/>
<polygon points="590.80,155.35 591.91,157.27 594.13,157.27 593.02,159.20 594.13,161.12 591.91,161.12 590.80,163.05 589.69,161.12 587.47,161.12 588.58,159.20 587.47,157.27 589.69,157.27" fill="#fd8d3c" stroke="#000" stroke-width="0.7" stroke-linejoin="miter"/>
<polygon points="596.00,158.25 597.11,160.17 599.33,160.17 598.22,162.10 599.33,164.03 597.11,164.03 596.00,165.95 594.89,164.03 592.67,164.03 593.78,162.10 592.67,160.17 594.89,160.17" fill="#fd8d3c" stroke="#000" stroke-width="0.7" stroke-linejoin="miter"/>
<polygon points="574.90,157.75 576.01,159.67 578.23,159.67 577.12,161.60 578.23,163.53 576.01,163.53 574.90,165.45 573.79,163.53 571.57,163.53 572.68,161.60 571.57,159.67 573.79,159.67" fill="#c6dbef" stroke="#000" stroke-width="0.7" stroke-linejoin="miter"/>
<polygon points="571.40,156.25 572.51,158.17 574.73,158.17 573.62,160.10 574.73,162.03 572.51,162.03 571.40,163.95 570.29,162.03 568.07,162.03 569.18,160.10 568.07,158.17 570.29,158.17" fill="#e6550d" stroke="#000" stroke-width="0.7" stroke-linejoin="miter"/>
<polygon points="571.50,167.90 574.65,172.00 571.50,176.10 568.35,172.00" fill="#fd8d3c" stroke="#000" stroke-width="0.7" stroke-linejoin="miter"/>
<polygon points="566.10,170.65 567.21,172.57 569.43,172.57 568.32,174.50 569.43,176.43 567.21,176.43 566.10,178.35 564.99,176.43 562.77,176.43 563.88,174.50 562.77,172.57 564.99,172.57" fill="#e6550d" stroke="#000" stroke-width="0.7" stroke-linejoin="miter"/>
<polygon points="602.80,176.10 596.40,172.35 596.40,179.85" fill="#fd8d3c" stroke="#000" stroke-width="0.7" stroke-linejoin="miter"/>
<polygon points="617.40,186.30 611.00,182.55 611.00,190.05" fill="#fd8d3c" stroke="#000" stroke-width="0.7" stroke-linejoin="miter"/>
<text x="510.60" y="234.3" font-size="10.6" text-anchor="middle">0</text>
<text x="553.98" y="234.3" font-size="10.6" text-anchor="middle">1</text>
<text x="596.65" y="234.3" font-size="10.6" text-anchor="middle">2</text>
<text x="639.33" y="234.3" font-size="10.6" text-anchor="middle">3</text>
<text x="682.00" y="234.3" font-size="10.6" text-anchor="middle">4</text>
<text x="508.00" y="226.90" font-size="10.6" text-anchor="end">0</text>
<text x="508.00" y="170.07" font-size="10.6" text-anchor="end">20</text>
<text x="508.00" y="113.23" font-size="10.6" text-anchor="end">40</text>
<text x="508.00" y="56.40" font-size="10.6" text-anchor="end">60</text>
<text x="666.20" y="69.20" font-size="12.5" text-anchor="middle">(c)</text>
<text x="596.65" y="248.60" font-size="10" text-anchor="middle"><tspan font-style="italic">E</tspan><tspan font-size="5.6" dy="3" font-style="italic">c</tspan><tspan dy="-3" dx="0.6"> (MV/cm)</tspan></text>
<text transform="translate(483.90,138.40) rotate(-90)" font-size="10" text-anchor="middle"><tspan font-style="italic" font-size="8.8">ε</tspan><tspan font-size="6.2" dy="2.6" font-style="italic">FE</tspan></text>
<rect x="32.6" y="268.3" width="170.9" height="169.89999999999998" fill="none" stroke="#222" stroke-width="1.25"/>
<line x1="57.01" y1="438.2" x2="57.01" y2="435.4" stroke="#222" stroke-width="0.9"/>
<line x1="57.01" y1="268.3" x2="57.01" y2="271.1" stroke="#222" stroke-width="0.9"/>
<line x1="81.43" y1="438.2" x2="81.43" y2="435.4" stroke="#222" stroke-width="0.9"/>
<line x1="81.43" y1="268.3" x2="81.43" y2="271.1" stroke="#222" stroke-width="0.9"/>
<line x1="105.84" y1="438.2" x2="105.84" y2="435.4" stroke="#222" stroke-width="0.9"/>
<line x1="105.84" y1="268.3" x2="105.84" y2="271.1" stroke="#222" stroke-width="0.9"/>
<line x1="130.26" y1="438.2" x2="130.26" y2="435.4" stroke="#222" stroke-width="0.9"/>
<line x1="130.26" y1="268.3" x2="130.26" y2="271.1" stroke="#222" stroke-width="0.9"/>
<line x1="154.67" y1="438.2" x2="154.67" y2="435.4" stroke="#222" stroke-width="0.9"/>
<line x1="154.67" y1="268.3" x2="154.67" y2="271.1" stroke="#222" stroke-width="0.9"/>
<line x1="179.09" y1="438.2" x2="179.09" y2="435.4" stroke="#222" stroke-width="0.9"/>
<line x1="179.09" y1="268.3" x2="179.09" y2="271.1" stroke="#222" stroke-width="0.9"/>
<line x1="32.6" y1="395.73" x2="35.4" y2="395.73" stroke="#222" stroke-width="0.9"/>
<line x1="203.5" y1="395.73" x2="200.7" y2="395.73" stroke="#222" stroke-width="0.9"/>
<line x1="32.6" y1="353.25" x2="35.4" y2="353.25" stroke="#222" stroke-width="0.9"/>
<line x1="203.5" y1="353.25" x2="200.7" y2="353.25" stroke="#222" stroke-width="0.9"/>
<line x1="32.6" y1="310.77" x2="35.4" y2="310.77" stroke="#222" stroke-width="0.9"/>
<line x1="203.5" y1="310.77" x2="200.7" y2="310.77" stroke="#222" stroke-width="0.9"/>
<line x1="32.6" y1="425.41" x2="34.4" y2="425.41" stroke="#222" stroke-width="0.7"/>
<line x1="203.5" y1="425.41" x2="201.7" y2="425.41" stroke="#222" stroke-width="0.7"/>
<line x1="32.6" y1="417.93" x2="34.4" y2="417.93" stroke="#222" stroke-width="0.7"/>
<line x1="203.5" y1="417.93" x2="201.7" y2="417.93" stroke="#222" stroke-width="0.7"/>
<line x1="32.6" y1="412.63" x2="34.4" y2="412.63" stroke="#222" stroke-width="0.7"/>
<line x1="203.5" y1="412.63" x2="201.7" y2="412.63" stroke="#222" stroke-width="0.7"/>
<line x1="32.6" y1="408.51" x2="34.4" y2="408.51" stroke="#222" stroke-width="0.7"/>
<line x1="203.5" y1="408.51" x2="201.7" y2="408.51" stroke="#222" stroke-width="0.7"/>
<line x1="32.6" y1="405.15" x2="34.4" y2="405.15" stroke="#222" stroke-width="0.7"/>
<line x1="203.5" y1="405.15" x2="201.7" y2="405.15" stroke="#222" stroke-width="0.7"/>
<line x1="32.6" y1="402.30" x2="34.4" y2="402.30" stroke="#222" stroke-width="0.7"/>
<line x1="203.5" y1="402.30" x2="201.7" y2="402.30" stroke="#222" stroke-width="0.7"/>
<line x1="32.6" y1="399.84" x2="34.4" y2="399.84" stroke="#222" stroke-width="0.7"/>
<line x1="203.5" y1="399.84" x2="201.7" y2="399.84" stroke="#222" stroke-width="0.7"/>
<line x1="32.6" y1="397.67" x2="34.4" y2="397.67" stroke="#222" stroke-width="0.7"/>
<line x1="203.5" y1="397.67" x2="201.7" y2="397.67" stroke="#222" stroke-width="0.7"/>
<line x1="32.6" y1="382.94" x2="34.4" y2="382.94" stroke="#222" stroke-width="0.7"/>
<line x1="203.5" y1="382.94" x2="201.7" y2="382.94" stroke="#222" stroke-width="0.7"/>
<line x1="32.6" y1="375.46" x2="34.4" y2="375.46" stroke="#222" stroke-width="0.7"/>
<line x1="203.5" y1="375.46" x2="201.7" y2="375.46" stroke="#222" stroke-width="0.7"/>
<line x1="32.6" y1="370.15" x2="34.4" y2="370.15" stroke="#222" stroke-width="0.7"/>
<line x1="203.5" y1="370.15" x2="201.7" y2="370.15" stroke="#222" stroke-width="0.7"/>
<line x1="32.6" y1="366.04" x2="34.4" y2="366.04" stroke="#222" stroke-width="0.7"/>
<line x1="203.5" y1="366.04" x2="201.7" y2="366.04" stroke="#222" stroke-width="0.7"/>
<line x1="32.6" y1="362.67" x2="34.4" y2="362.67" stroke="#222" stroke-width="0.7"/>
<line x1="203.5" y1="362.67" x2="201.7" y2="362.67" stroke="#222" stroke-width="0.7"/>
<line x1="32.6" y1="359.83" x2="34.4" y2="359.83" stroke="#222" stroke-width="0.7"/>
<line x1="203.5" y1="359.83" x2="201.7" y2="359.83" stroke="#222" stroke-width="0.7"/>
<line x1="32.6" y1="357.37" x2="34.4" y2="357.37" stroke="#222" stroke-width="0.7"/>
<line x1="203.5" y1="357.37" x2="201.7" y2="357.37" stroke="#222" stroke-width="0.7"/>
<line x1="32.6" y1="355.19" x2="34.4" y2="355.19" stroke="#222" stroke-width="0.7"/>
<line x1="203.5" y1="355.19" x2="201.7" y2="355.19" stroke="#222" stroke-width="0.7"/>
<line x1="32.6" y1="340.46" x2="34.4" y2="340.46" stroke="#222" stroke-width="0.7"/>
<line x1="203.5" y1="340.46" x2="201.7" y2="340.46" stroke="#222" stroke-width="0.7"/>
<line x1="32.6" y1="332.98" x2="34.4" y2="332.98" stroke="#222" stroke-width="0.7"/>
<line x1="203.5" y1="332.98" x2="201.7" y2="332.98" stroke="#222" stroke-width="0.7"/>
<line x1="32.6" y1="327.68" x2="34.4" y2="327.68" stroke="#222" stroke-width="0.7"/>
<line x1="203.5" y1="327.68" x2="201.7" y2="327.68" stroke="#222" stroke-width="0.7"/>
<line x1="32.6" y1="323.56" x2="34.4" y2="323.56" stroke="#222" stroke-width="0.7"/>
<line x1="203.5" y1="323.56" x2="201.7" y2="323.56" stroke="#222" stroke-width="0.7"/>
<line x1="32.6" y1="320.20" x2="34.4" y2="320.20" stroke="#222" stroke-width="0.7"/>
<line x1="203.5" y1="320.20" x2="201.7" y2="320.20" stroke="#222" stroke-width="0.7"/>
<line x1="32.6" y1="317.35" x2="34.4" y2="317.35" stroke="#222" stroke-width="0.7"/>
<line x1="203.5" y1="317.35" x2="201.7" y2="317.35" stroke="#222" stroke-width="0.7"/>
<line x1="32.6" y1="314.89" x2="34.4" y2="314.89" stroke="#222" stroke-width="0.7"/>
<line x1="203.5" y1="314.89" x2="201.7" y2="314.89" stroke="#222" stroke-width="0.7"/>
<line x1="32.6" y1="312.72" x2="34.4" y2="312.72" stroke="#222" stroke-width="0.7"/>
<line x1="203.5" y1="312.72" x2="201.7" y2="312.72" stroke="#222" stroke-width="0.7"/>
<line x1="32.6" y1="297.99" x2="34.4" y2="297.99" stroke="#222" stroke-width="0.7"/>
<line x1="203.5" y1="297.99" x2="201.7" y2="297.99" stroke="#222" stroke-width="0.7"/>
<line x1="32.6" y1="290.51" x2="34.4" y2="290.51" stroke="#222" stroke-width="0.7"/>
<line x1="203.5" y1="290.51" x2="201.7" y2="290.51" stroke="#222" stroke-width="0.7"/>
<line x1="32.6" y1="285.20" x2="34.4" y2="285.20" stroke="#222" stroke-width="0.7"/>
<line x1="203.5" y1="285.20" x2="201.7" y2="285.20" stroke="#222" stroke-width="0.7"/>
<line x1="32.6" y1="281.09" x2="34.4" y2="281.09" stroke="#222" stroke-width="0.7"/>
<line x1="203.5" y1="281.09" x2="201.7" y2="281.09" stroke="#222" stroke-width="0.7"/>
<line x1="32.6" y1="277.72" x2="34.4" y2="277.72" stroke="#222" stroke-width="0.7"/>
<line x1="203.5" y1="277.72" x2="201.7" y2="277.72" stroke="#222" stroke-width="0.7"/>
<line x1="32.6" y1="274.88" x2="34.4" y2="274.88" stroke="#222" stroke-width="0.7"/>
<line x1="203.5" y1="274.88" x2="201.7" y2="274.88" stroke="#222" stroke-width="0.7"/>
<line x1="32.6" y1="272.42" x2="34.4" y2="272.42" stroke="#222" stroke-width="0.7"/>
<line x1="203.5" y1="272.42" x2="201.7" y2="272.42" stroke="#222" stroke-width="0.7"/>
<line x1="32.6" y1="270.24" x2="34.4" y2="270.24" stroke="#222" stroke-width="0.7"/>
<line x1="203.5" y1="270.24" x2="201.7" y2="270.24" stroke="#222" stroke-width="0.7"/>
<circle cx="47.20" cy="284.70" r="3.15" fill="#31a354" stroke="#000" stroke-width="0.7" stroke-linejoin="miter"/>
<circle cx="71.30" cy="284.70" r="3.15" fill="#31a354" stroke="#000" stroke-width="0.7" stroke-linejoin="miter"/>
<polygon points="64.40,285.95 65.51,287.88 67.73,287.88 66.62,289.80 67.73,291.73 65.51,291.73 64.40,293.65 63.29,291.73 61.07,291.73 62.18,289.80 61.07,287.88 63.29,287.88" fill="#e6550d" stroke="#000" stroke-width="0.7" stroke-linejoin="miter"/>
<circle cx="58.20" cy="302.90" r="3.15" fill="#31a354" stroke="#000" stroke-width="0.7" stroke-linejoin="miter"/>
<polygon points="86.60,283.05 87.71,284.97 89.93,284.97 88.82,286.90 89.93,288.82 87.71,288.82 86.60,290.75 85.49,288.82 83.27,288.82 84.38,286.90 83.27,284.97 85.49,284.97" fill="#a1d99b" stroke="#000" stroke-width="0.7" stroke-linejoin="miter"/>
<polygon points="90.60,280.50 93.75,284.60 90.60,288.70 87.45,284.60" fill="#fd8d3c" stroke="#000" stroke-width="0.7" stroke-linejoin="miter"/>
<circle cx="82.30" cy="310.30" r="3.15" fill="#c6dbef" stroke="#000" stroke-width="0.7" stroke-linejoin="miter"/>
<polygon points="52.80,316.50 59.20,312.75 59.20,320.25" fill="#c6dbef" stroke="#000" stroke-width="0.7" stroke-linejoin="miter"/>
<polygon points="45.60,319.10 52.00,315.35 52.00,322.85" fill="#fd8d3c" stroke="#000" stroke-width="0.7" stroke-linejoin="miter"/>
<polygon points="44.50,317.65 45.61,319.57 47.83,319.57 46.72,321.50 47.83,323.43 45.61,323.43 44.50,325.35 43.39,323.43 41.17,323.43 42.28,321.50 41.17,319.57 43.39,319.57" fill="#fd8d3c" stroke="#000" stroke-width="0.7" stroke-linejoin="miter"/>
<polygon points="61.20,316.45 62.31,318.38 64.53,318.38 63.42,320.30 64.53,322.23 62.31,322.23 61.20,324.15 60.09,322.23 57.87,322.23 58.98,320.30 57.87,318.38 60.09,318.38" fill="#fd8d3c" stroke="#000" stroke-width="0.7" stroke-linejoin="miter"/>
<polygon points="65.70,312.65 66.81,314.57 69.03,314.57 67.92,316.50 69.03,318.43 66.81,318.43 65.70,320.35 64.59,318.43 62.37,318.43 63.48,316.50 62.37,314.57 64.59,314.57" fill="#fd8d3c" stroke="#000" stroke-width="0.7" stroke-linejoin="miter"/>
<polygon points="80.80,332.70 87.20,328.95 87.20,336.45" fill="#6baed6" stroke="#000" stroke-width="0.7" stroke-linejoin="miter"/>
<polygon points="61.70,341.30 68.10,337.55 68.10,345.05" fill="#fd8d3c" stroke="#000" stroke-width="0.7" stroke-linejoin="miter"/>
<polygon points="77.60,343.30 81.35,336.90 73.85,336.90" fill="#fd8d3c" stroke="#000" stroke-width="0.7" stroke-linejoin="miter"/>
<polygon points="118.90,280.55 120.01,282.47 122.23,282.47 121.12,284.40 122.23,286.32 120.01,286.32 118.90,288.25 117.79,286.32 115.57,286.32 116.68,284.40 115.57,282.47 117.79,282.47" fill="#fd8d3c" stroke="#000" stroke-width="0.7" stroke-linejoin="miter"/>
<polygon points="109.90,286.25 111.01,288.18 113.23,288.18 112.12,290.10 113.23,292.03 111.01,292.03 109.90,293.95 108.79,292.03 106.57,292.03 107.68,290.10 106.57,288.18 108.79,288.18" fill="#e6550d" stroke="#000" stroke-width="0.7" stroke-linejoin="miter"/>
<polygon points="117.60,287.05 118.71,288.97 120.93,288.97 119.82,290.90 120.93,292.82 118.71,292.82 117.60,294.75 116.49,292.82 114.27,292.82 115.38,290.90 114.27,288.97 116.49,288.97" fill="#c6dbef" stroke="#000" stroke-width="0.7" stroke-linejoin="miter"/>
<polygon points="124.90,294.85 126.01,296.77 128.23,296.77 127.12,298.70 128.23,300.62 126.01,300.62 124.90,302.55 123.79,300.62 121.57,300.62 122.68,298.70 121.57,296.77 123.79,296.77" fill="#9ecae1" stroke="#000" stroke-width="0.7" stroke-linejoin="miter"/>
<polygon points="119.20,296.05 120.31,297.97 122.53,297.97 121.42,299.90 122.53,301.82 120.31,301.82 119.20,303.75 118.09,301.82 115.87,301.82 116.98,299.90 115.87,297.97 118.09,297.97" fill="#e6550d" stroke="#000" stroke-width="0.7" stroke-linejoin="miter"/>
<polygon points="120.00,300.75 121.11,302.68 123.33,302.68 122.22,304.60 123.33,306.53 121.11,306.53 120.00,308.45 118.89,306.53 116.67,306.53 117.78,304.60 116.67,302.68 118.89,302.68" fill="#fd8d3c" stroke="#000" stroke-width="0.7" stroke-linejoin="miter"/>
<polygon points="115.70,306.05 116.81,307.97 119.03,307.97 117.92,309.90 119.03,311.82 116.81,311.82 115.70,313.75 114.59,311.82 112.37,311.82 113.48,309.90 112.37,307.97 114.59,307.97" fill="#fd8d3c" stroke="#000" stroke-width="0.7" stroke-linejoin="miter"/>
<polygon points="125.40,307.65 126.51,309.57 128.73,309.57 127.62,311.50 128.73,313.43 126.51,313.43 125.40,315.35 124.29,313.43 122.07,313.43 123.18,311.50 122.07,309.57 124.29,309.57" fill="#fd8d3c" stroke="#000" stroke-width="0.7" stroke-linejoin="miter"/>
<polygon points="140.50,311.40 134.10,307.65 134.10,315.15" fill="#fd8d3c" stroke="#000" stroke-width="0.7" stroke-linejoin="miter"/>
<polygon points="116.70,314.85 117.81,316.77 120.03,316.77 118.92,318.70 120.03,320.62 117.81,320.62 116.70,322.55 115.59,320.62 113.37,320.62 114.48,318.70 113.37,316.77 115.59,316.77" fill="#74c476" stroke="#000" stroke-width="0.7" stroke-linejoin="miter"/>
<rect x="108.00" y="319.30" width="5.00" height="5.00" fill="#fd8d3c" stroke="#000" stroke-width="0.7" stroke-linejoin="miter"/>
<polygon points="130.50,318.70 124.10,314.95 124.10,322.45" fill="#fd8d3c" stroke="#000" stroke-width="0.7" stroke-linejoin="miter"/>
<polygon points="129.70,313.35 130.81,315.27 133.03,315.27 131.92,317.20 133.03,319.12 130.81,319.12 129.70,321.05 128.59,319.12 126.37,319.12 127.48,317.20 126.37,315.27 128.59,315.27" fill="#fd8d3c" stroke="#000" stroke-width="0.7" stroke-linejoin="miter"/>
<polygon points="133.00,313.35 134.11,315.27 136.33,315.27 135.22,317.20 136.33,319.12 134.11,319.12 133.00,321.05 131.89,319.12 129.67,319.12 130.78,317.20 129.67,315.27 131.89,315.27" fill="#fd8d3c" stroke="#000" stroke-width="0.7" stroke-linejoin="miter"/>
<polygon points="130.10,317.95 131.21,319.88 133.43,319.88 132.32,321.80 133.43,323.73 131.21,323.73 130.10,325.65 128.99,323.73 126.77,323.73 127.88,321.80 126.77,319.88 128.99,319.88" fill="#fdd0a2" stroke="#000" stroke-width="0.7" stroke-linejoin="miter"/>
<polygon points="101.00,323.45 102.11,325.38 104.33,325.38 103.22,327.30 104.33,329.23 102.11,329.23 101.00,331.15 99.89,329.23 97.67,329.23 98.78,327.30 97.67,325.38 99.89,325.38" fill="#fd8d3c" stroke="#000" stroke-width="0.7" stroke-linejoin="miter"/>
<polygon points="137.20,329.80 140.95,336.20 133.45,336.20" fill="#fd8d3c" stroke="#000" stroke-width="0.7" stroke-linejoin="miter"/>
<polygon points="159.60,330.10 153.20,326.35 153.20,333.85" fill="#fd8d3c" stroke="#000" stroke-width="0.7" stroke-linejoin="miter"/>
<polygon points="159.90,315.55 161.01,317.47 163.23,317.47 162.12,319.40 163.23,321.32 161.01,321.32 159.90,323.25 158.79,321.32 156.57,321.32 157.68,319.40 156.57,317.47 158.79,317.47" fill="#fd8d3c" stroke="#000" stroke-width="0.7" stroke-linejoin="miter"/>
<polygon points="101.80,347.00 95.40,343.25 95.40,350.75" fill="#fd8d3c" stroke="#000" stroke-width="0.7" stroke-linejoin="miter"/>
<polygon points="110.60,336.10 114.35,342.50 106.85,342.50" fill="#fd8d3c" stroke="#000" stroke-width="0.7" stroke-linejoin="miter"/>
<polygon points="111.40,344.40 115.15,350.80 107.65,350.80" fill="#fd8d3c" stroke="#000" stroke-width="0.7" stroke-linejoin="miter"/>
<polygon points="114.40,341.35 115.51,343.27 117.73,343.27 116.62,345.20 117.73,347.12 115.51,347.12 114.40,349.05 113.29,347.12 111.07,347.12 112.18,345.20 111.07,343.27 113.29,343.27" fill="#fd8d3c" stroke="#000" stroke-width="0.7" stroke-linejoin="miter"/>
<polygon points="127.10,351.30 120.70,347.55 120.70,355.05" fill="#3182bd" stroke="#000" stroke-width="0.7" stroke-linejoin="miter"/>
<rect x="117.90" y="348.60" width="5.00" height="5.00" fill="#fd8d3c" stroke="#000" stroke-width="0.7" stroke-linejoin="miter"/>
<polygon points="127.60,347.45 128.71,349.38 130.93,349.38 129.82,351.30 130.93,353.23 128.71,353.23 127.60,355.15 126.49,353.23 124.27,353.23 125.38,351.30 124.27,349.38 126.49,349.38" fill="#fd8d3c" stroke="#000" stroke-width="0.7" stroke-linejoin="miter"/>
<rect x="114.20" y="353.60" width="5.00" height="5.00" fill="#fd8d3c" stroke="#000" stroke-width="0.7" stroke-linejoin="miter"/>
<polygon points="82.70,355.05 83.81,356.97 86.03,356.97 84.92,358.90 86.03,360.82 83.81,360.82 82.70,362.75 81.59,360.82 79.37,360.82 80.48,358.90 79.37,356.97 81.59,356.97" fill="#fd8d3c" stroke="#000" stroke-width="0.7" stroke-linejoin="miter"/>
<polygon points="109.50,357.30 112.65,361.40 109.50,365.50 106.35,361.40" fill="#fd8d3c" stroke="#000" stroke-width="0.7" stroke-linejoin="miter"/>
<polygon points="140.60,351.50 144.35,357.90 136.85,357.90" fill="#fd8d3c" stroke="#000" stroke-width="0.7" stroke-linejoin="miter"/>
<polygon points="148.80,354.10 152.55,347.70 145.05,347.70" fill="#fd8d3c" stroke="#000" stroke-width="0.7" stroke-linejoin="miter"/>
<polygon points="148.90,354.05 150.01,355.97 152.23,355.97 151.12,357.90 152.23,359.82 150.01,359.82 148.90,361.75 147.79,359.82 145.57,359.82 146.68,357.90 145.57,355.97 147.79,355.97" fill="#fdae6b" stroke="#000" stroke-width="0.7" stroke-linejoin="miter"/>
<polygon points="155.50,362.50 149.10,358.75 149.10,366.25" fill="#fd8d3c" stroke="#000" stroke-width="0.7" stroke-linejoin="miter"/>
<polygon points="172.50,341.45 173.61,343.38 175.83,343.38 174.72,345.30 175.83,347.23 173.61,347.23 172.50,349.15 171.39,347.23 169.17,347.23 170.28,345.30 169.17,343.38 171.39,343.38" fill="#fd8d3c" stroke="#000" stroke-width="0.7" stroke-linejoin="miter"/>
<polygon points="135.50,368.10 139.25,374.50 131.75,374.50" fill="#fd8d3c" stroke="#000" stroke-width="0.7" stroke-linejoin="miter"/>
<polygon points="160.60,371.50 163.75,375.60 160.60,379.70 157.45,375.60" fill="#fd8d3c" stroke="#000" stroke-width="0.7" stroke-linejoin="miter"/>
<polygon points="149.80,377.25 150.91,379.18 153.13,379.18 152.02,381.10 153.13,383.03 150.91,383.03 149.80,384.95 148.69,383.03 146.47,383.03 147.58,381.10 146.47,379.18 148.69,379.18" fill="#fd8d3c" stroke="#000" stroke-width="0.7" stroke-linejoin="miter"/>
<polygon points="169.20,414.95 170.31,416.88 172.53,416.88 171.42,418.80 172.53,420.73 170.31,420.73 169.20,422.65 168.09,420.73 165.87,420.73 166.98,418.80 165.87,416.88 168.09,416.88" fill="#c7e9c0" stroke="#000" stroke-width="0.7" stroke-linejoin="miter"/>
<polygon points="89.70,419.80 83.30,416.05 83.30,423.55" fill="#756bb1" stroke="#000" stroke-width="0.7" stroke-linejoin="miter"/>
<polygon points="126.30,412.55 127.41,414.47 129.63,414.47 128.52,416.40 129.63,418.32 127.41,418.32 126.30,420.25 125.19,418.32 122.97,418.32 124.08,416.40 122.97,414.47 125.19,414.47" fill="#fd8d3c" stroke="#000" stroke-width="0.7" stroke-linejoin="miter"/>
<text x="31.90" y="449.0" font-size="10.6" text-anchor="middle">0</text>
<text x="81.43" y="449.0" font-size="10.6" text-anchor="middle">10</text>
<text x="130.26" y="449.0" font-size="10.6" text-anchor="middle">20</text>
<text x="179.09" y="449.0" font-size="10.6" text-anchor="middle">30</text>
<text x="26.20" y="441.80" font-size="10.2" text-anchor="end">10</text><text x="26.30" y="438.60" font-size="6.2" letter-spacing="-0.3">-4</text>
<text x="26.20" y="399.33" font-size="10.2" text-anchor="end">10</text><text x="26.30" y="396.12" font-size="6.2" letter-spacing="-0.3">-3</text>
<text x="26.20" y="356.85" font-size="10.2" text-anchor="end">10</text><text x="26.30" y="353.65" font-size="6.2" letter-spacing="-0.3">-2</text>
<text x="26.20" y="314.38" font-size="10.2" text-anchor="end">10</text><text x="26.30" y="311.17" font-size="6.2" letter-spacing="-0.3">-1</text>
<text x="26.20" y="271.90" font-size="10.2" text-anchor="end">10</text><text x="26.30" y="268.70" font-size="6.2" letter-spacing="-0.3">0</text>
<text x="187.70" y="284.50" font-size="12.5" text-anchor="middle">(d)</text>
<text x="118.05" y="464.30" font-size="10" text-anchor="middle"><tspan font-style="italic">P</tspan><tspan font-size="5.6" dy="3" font-style="italic">r</tspan><tspan dy="-3" dx="0.6"> (μC/cm</tspan><tspan font-size="5.8" dy="-3.6">2</tspan><tspan dy="3.6">)</tspan></text>
<text transform="translate(10.4,352.8) rotate(-90)" font-size="10" text-anchor="middle">(<tspan font-style="italic">P</tspan><tspan font-size="5.6" dy="3" font-style="italic">s</tspan><tspan dy="-3" dx="0.5">-</tspan><tspan font-style="italic">P</tspan><tspan font-size="5.6" dy="3" font-style="italic">r</tspan><tspan dy="-3" dx="0.5">)/</tspan><tspan font-style="italic">P</tspan><tspan font-size="5.6" dy="3" font-style="italic">r</tspan></text>
<rect x="272.1" y="268.3" width="170.89999999999998" height="169.89999999999998" fill="none" stroke="#222" stroke-width="1.25"/>
<line x1="296.51" y1="438.2" x2="296.51" y2="435.4" stroke="#222" stroke-width="0.9"/>
<line x1="296.51" y1="268.3" x2="296.51" y2="271.1" stroke="#222" stroke-width="0.9"/>
<line x1="320.93" y1="438.2" x2="320.93" y2="435.4" stroke="#222" stroke-width="0.9"/>
<line x1="320.93" y1="268.3" x2="320.93" y2="271.1" stroke="#222" stroke-width="0.9"/>
<line x1="345.34" y1="438.2" x2="345.34" y2="435.4" stroke="#222" stroke-width="0.9"/>
<line x1="345.34" y1="268.3" x2="345.34" y2="271.1" stroke="#222" stroke-width="0.9"/>
<line x1="369.76" y1="438.2" x2="369.76" y2="435.4" stroke="#222" stroke-width="0.9"/>
<line x1="369.76" y1="268.3" x2="369.76" y2="271.1" stroke="#222" stroke-width="0.9"/>
<line x1="394.17" y1="438.2" x2="394.17" y2="435.4" stroke="#222" stroke-width="0.9"/>
<line x1="394.17" y1="268.3" x2="394.17" y2="271.1" stroke="#222" stroke-width="0.9"/>
<line x1="418.59" y1="438.2" x2="418.59" y2="435.4" stroke="#222" stroke-width="0.9"/>
<line x1="418.59" y1="268.3" x2="418.59" y2="271.1" stroke="#222" stroke-width="0.9"/>
<line x1="272.1" y1="409.88" x2="274.90000000000003" y2="409.88" stroke="#222" stroke-width="0.9"/>
<line x1="443.0" y1="409.88" x2="440.2" y2="409.88" stroke="#222" stroke-width="0.9"/>
<line x1="272.1" y1="381.57" x2="274.90000000000003" y2="381.57" stroke="#222" stroke-width="0.9"/>
<line x1="443.0" y1="381.57" x2="440.2" y2="381.57" stroke="#222" stroke-width="0.9"/>
<line x1="272.1" y1="353.25" x2="274.90000000000003" y2="353.25" stroke="#222" stroke-width="0.9"/>
<line x1="443.0" y1="353.25" x2="440.2" y2="353.25" stroke="#222" stroke-width="0.9"/>
<line x1="272.1" y1="324.93" x2="274.90000000000003" y2="324.93" stroke="#222" stroke-width="0.9"/>
<line x1="443.0" y1="324.93" x2="440.2" y2="324.93" stroke="#222" stroke-width="0.9"/>
<line x1="272.1" y1="296.62" x2="274.90000000000003" y2="296.62" stroke="#222" stroke-width="0.9"/>
<line x1="443.0" y1="296.62" x2="440.2" y2="296.62" stroke="#222" stroke-width="0.9"/>
<circle cx="310.30" cy="304.80" r="3.15" fill="#31a354" stroke="#000" stroke-width="0.7" stroke-linejoin="miter"/>
<polygon points="329.30,311.20 332.45,315.30 329.30,319.40 326.15,315.30" fill="#fd8d3c" stroke="#000" stroke-width="0.7" stroke-linejoin="miter"/>
<polygon points="320.00,327.60 326.40,323.85 326.40,331.35" fill="#6baed6" stroke="#000" stroke-width="0.7" stroke-linejoin="miter"/>
<polygon points="284.30,334.90 290.70,331.15 290.70,338.65" fill="#fd8d3c" stroke="#000" stroke-width="0.7" stroke-linejoin="miter"/>
<polygon points="325.80,334.25 326.91,336.18 329.13,336.18 328.02,338.10 329.13,340.03 326.91,340.03 325.80,341.95 324.69,340.03 322.47,340.03 323.58,338.10 322.47,336.18 324.69,336.18" fill="#a1d99b" stroke="#000" stroke-width="0.7" stroke-linejoin="miter"/>
<polygon points="291.80,351.70 298.20,347.95 298.20,355.45" fill="#c6dbef" stroke="#000" stroke-width="0.7" stroke-linejoin="miter"/>
<polygon points="300.60,350.70 307.00,346.95 307.00,354.45" fill="#fd8d3c" stroke="#000" stroke-width="0.7" stroke-linejoin="miter"/>
<polygon points="283.70,353.55 284.81,355.47 287.03,355.47 285.92,357.40 287.03,359.32 284.81,359.32 283.70,361.25 282.59,359.32 280.37,359.32 281.48,357.40 280.37,355.47 282.59,355.47" fill="#fd8d3c" stroke="#000" stroke-width="0.7" stroke-linejoin="miter"/>
<circle cx="297.40" cy="358.70" r="3.15" fill="#31a354" stroke="#000" stroke-width="0.7" stroke-linejoin="miter"/>
<circle cx="321.60" cy="352.40" r="3.15" fill="#c6dbef" stroke="#000" stroke-width="0.7" stroke-linejoin="miter"/>
<polygon points="316.80,363.10 320.55,356.70 313.05,356.70" fill="#fd8d3c" stroke="#000" stroke-width="0.7" stroke-linejoin="miter"/>
<polygon points="329.30,359.90 322.90,356.15 322.90,363.65" fill="#756bb1" stroke="#000" stroke-width="0.7" stroke-linejoin="miter"/>
<circle cx="286.40" cy="373.70" r="3.15" fill="#31a354" stroke="#000" stroke-width="0.7" stroke-linejoin="miter"/>
<polygon points="305.00,366.25 306.11,368.18 308.33,368.18 307.22,370.10 308.33,372.03 306.11,372.03 305.00,373.95 303.89,372.03 301.67,372.03 302.78,370.10 301.67,368.18 303.89,368.18" fill="#fd8d3c" stroke="#000" stroke-width="0.7" stroke-linejoin="miter"/>
<polygon points="300.20,369.65 301.31,371.57 303.53,371.57 302.42,373.50 303.53,375.43 301.31,375.43 300.20,377.35 299.09,375.43 296.87,375.43 297.98,373.50 296.87,371.57 299.09,371.57" fill="#fd8d3c" stroke="#000" stroke-width="0.7" stroke-linejoin="miter"/>
<polygon points="303.60,371.55 304.71,373.47 306.93,373.47 305.82,375.40 306.93,377.32 304.71,377.32 303.60,379.25 302.49,377.32 300.27,377.32 301.38,375.40 300.27,373.47 302.49,373.47" fill="#e6550d" stroke="#000" stroke-width="0.7" stroke-linejoin="miter"/>
<polygon points="322.00,370.45 323.11,372.38 325.33,372.38 324.22,374.30 325.33,376.23 323.11,376.23 322.00,378.15 320.89,376.23 318.67,376.23 319.78,374.30 318.67,372.38 320.89,372.38" fill="#fd8d3c" stroke="#000" stroke-width="0.7" stroke-linejoin="miter"/>
<polygon points="389.00,272.75 390.11,274.68 392.33,274.68 391.22,276.60 392.33,278.53 390.11,278.53 389.00,280.45 387.89,278.53 385.67,278.53 386.78,276.60 385.67,274.68 387.89,274.68" fill="#fd8d3c" stroke="#000" stroke-width="0.7" stroke-linejoin="miter"/>
<polygon points="388.30,282.95 389.41,284.88 391.63,284.88 390.52,286.80 391.63,288.73 389.41,288.73 388.30,290.65 387.19,288.73 384.97,288.73 386.08,286.80 384.97,284.88 387.19,284.88" fill="#fdae6b" stroke="#000" stroke-width="0.7" stroke-linejoin="miter"/>
<polygon points="379.80,303.90 383.55,310.30 376.05,310.30" fill="#fd8d3c" stroke="#000" stroke-width="0.7" stroke-linejoin="miter"/>
<polygon points="365.80,307.35 366.91,309.27 369.13,309.27 368.02,311.20 369.13,313.12 366.91,313.12 365.80,315.05 364.69,313.12 362.47,313.12 363.58,311.20 362.47,309.27 364.69,309.27" fill="#fd8d3c" stroke="#000" stroke-width="0.7" stroke-linejoin="miter"/>
<polygon points="350.30,314.40 354.05,320.80 346.55,320.80" fill="#fd8d3c" stroke="#000" stroke-width="0.7" stroke-linejoin="miter"/>
<polygon points="350.30,310.20 354.05,316.60 346.55,316.60" fill="#fd8d3c" stroke="#000" stroke-width="0.7" stroke-linejoin="miter"/>
<polygon points="339.20,315.95 340.31,317.88 342.53,317.88 341.42,319.80 342.53,321.73 340.31,321.73 339.20,323.65 338.09,321.73 335.87,321.73 336.98,319.80 335.87,317.88 338.09,317.88" fill="#fd8d3c" stroke="#000" stroke-width="0.7" stroke-linejoin="miter"/>
<polygon points="355.70,314.55 356.81,316.47 359.03,316.47 357.92,318.40 359.03,320.32 356.81,320.32 355.70,322.25 354.59,320.32 352.37,320.32 353.48,318.40 352.37,316.47 354.59,316.47" fill="#74c476" stroke="#000" stroke-width="0.7" stroke-linejoin="miter"/>
<polygon points="369.50,315.35 370.61,317.27 372.83,317.27 371.72,319.20 372.83,321.12 370.61,321.12 369.50,323.05 368.39,321.12 366.17,321.12 367.28,319.20 366.17,317.27 368.39,317.27" fill="#fdd0a2" stroke="#000" stroke-width="0.7" stroke-linejoin="miter"/>
<polygon points="363.70,315.85 364.81,317.77 367.03,317.77 365.92,319.70 367.03,321.62 364.81,321.62 363.70,323.55 362.59,321.62 360.37,321.62 361.48,319.70 360.37,317.77 362.59,317.77" fill="#9ecae1" stroke="#000" stroke-width="0.7" stroke-linejoin="miter"/>
<polygon points="398.50,317.20 392.10,313.45 392.10,320.95" fill="#fd8d3c" stroke="#000" stroke-width="0.7" stroke-linejoin="miter"/>
<rect x="347.30" y="334.50" width="5.00" height="5.00" fill="#fd8d3c" stroke="#000" stroke-width="0.7" stroke-linejoin="miter"/>
<polygon points="359.20,331.55 360.31,333.47 362.53,333.47 361.42,335.40 362.53,337.32 360.31,337.32 359.20,339.25 358.09,337.32 355.87,337.32 356.98,335.40 355.87,333.47 358.09,333.47" fill="#fd8d3c" stroke="#000" stroke-width="0.7" stroke-linejoin="miter"/>
<polygon points="358.20,335.85 359.31,337.77 361.53,337.77 360.42,339.70 361.53,341.62 359.31,341.62 358.20,343.55 357.09,341.62 354.87,341.62 355.98,339.70 354.87,337.77 357.09,337.77" fill="#e6550d" stroke="#000" stroke-width="0.7" stroke-linejoin="miter"/>
<polygon points="366.40,327.45 367.51,329.38 369.73,329.38 368.62,331.30 369.73,333.23 367.51,333.23 366.40,335.15 365.29,333.23 363.07,333.23 364.18,331.30 363.07,329.38 365.29,329.38" fill="#fd8d3c" stroke="#000" stroke-width="0.7" stroke-linejoin="miter"/>
<polygon points="371.60,330.35 372.71,332.27 374.93,332.27 373.82,334.20 374.93,336.12 372.71,336.12 371.60,338.05 370.49,336.12 368.27,336.12 369.38,334.20 368.27,332.27 370.49,332.27" fill="#fd8d3c" stroke="#000" stroke-width="0.7" stroke-linejoin="miter"/>
<polygon points="369.50,334.25 370.61,336.18 372.83,336.18 371.72,338.10 372.83,340.03 370.61,340.03 369.50,341.95 368.39,340.03 366.17,340.03 367.28,338.10 366.17,336.18 368.39,336.18" fill="#fd8d3c" stroke="#000" stroke-width="0.7" stroke-linejoin="miter"/>
<polygon points="376.40,342.50 380.15,348.90 372.65,348.90" fill="#fd8d3c" stroke="#000" stroke-width="0.7" stroke-linejoin="miter"/>
<polygon points="394.50,345.50 388.10,341.75 388.10,349.25" fill="#fd8d3c" stroke="#000" stroke-width="0.7" stroke-linejoin="miter"/>
<polygon points="387.60,355.60 391.35,349.20 383.85,349.20" fill="#fd8d3c" stroke="#000" stroke-width="0.7" stroke-linejoin="miter"/>
<polygon points="399.20,346.95 400.31,348.88 402.53,348.88 401.42,350.80 402.53,352.73 400.31,352.73 399.20,354.65 398.09,352.73 395.87,352.73 396.98,350.80 395.87,348.88 398.09,348.88" fill="#fd8d3c" stroke="#000" stroke-width="0.7" stroke-linejoin="miter"/>
<polygon points="408.20,346.45 409.31,348.38 411.53,348.38 410.42,350.30 411.53,352.23 409.31,352.23 408.20,354.15 407.09,352.23 404.87,352.23 405.98,350.30 404.87,348.38 407.09,348.38" fill="#c7e9c0" stroke="#000" stroke-width="0.7" stroke-linejoin="miter"/>
<polygon points="411.60,330.55 412.71,332.47 414.93,332.47 413.82,334.40 414.93,336.32 412.71,336.32 411.60,338.25 410.49,336.32 408.27,336.32 409.38,334.40 408.27,332.47 410.49,332.47" fill="#fd8d3c" stroke="#000" stroke-width="0.7" stroke-linejoin="miter"/>
<polygon points="364.80,354.40 358.40,350.65 358.40,358.15" fill="#3182bd" stroke="#000" stroke-width="0.7" stroke-linejoin="miter"/>
<polygon points="358.00,349.35 359.11,351.27 361.33,351.27 360.22,353.20 361.33,355.12 359.11,355.12 358.00,357.05 356.89,355.12 354.67,355.12 355.78,353.20 354.67,351.27 356.89,351.27" fill="#fd8d3c" stroke="#000" stroke-width="0.7" stroke-linejoin="miter"/>
<polygon points="365.10,352.95 366.21,354.88 368.43,354.88 367.32,356.80 368.43,358.73 366.21,358.73 365.10,360.65 363.99,358.73 361.77,358.73 362.88,356.80 361.77,354.88 363.99,354.88" fill="#fd8d3c" stroke="#000" stroke-width="0.7" stroke-linejoin="miter"/>
<polygon points="356.70,356.95 357.81,358.88 360.03,358.88 358.92,360.80 360.03,362.73 357.81,362.73 356.70,364.65 355.59,362.73 353.37,362.73 354.48,360.80 353.37,358.88 355.59,358.88" fill="#fd8d3c" stroke="#000" stroke-width="0.7" stroke-linejoin="miter"/>
<rect x="357.60" y="357.20" width="5.00" height="5.00" fill="#fd8d3c" stroke="#000" stroke-width="0.7" stroke-linejoin="miter"/>
<polygon points="353.40,357.75 354.51,359.68 356.73,359.68 355.62,361.60 356.73,363.53 354.51,363.53 353.40,365.45 352.29,363.53 350.07,363.53 351.18,361.60 350.07,359.68 352.29,359.68" fill="#fd8d3c" stroke="#000" stroke-width="0.7" stroke-linejoin="miter"/>
<polygon points="370.50,360.40 364.10,356.65 364.10,364.15" fill="#fd8d3c" stroke="#000" stroke-width="0.7" stroke-linejoin="miter"/>
<polygon points="400.00,361.50 403.15,365.60 400.00,369.70 396.85,365.60" fill="#fd8d3c" stroke="#000" stroke-width="0.7" stroke-linejoin="miter"/>
<polygon points="374.90,368.50 378.65,374.90 371.15,374.90" fill="#fd8d3c" stroke="#000" stroke-width="0.7" stroke-linejoin="miter"/>
<polygon points="357.70,371.65 358.81,373.57 361.03,373.57 359.92,375.50 361.03,377.43 358.81,377.43 357.70,379.35 356.59,377.43 354.37,377.43 355.48,375.50 354.37,373.57 356.59,373.57" fill="#c6dbef" stroke="#000" stroke-width="0.7" stroke-linejoin="miter"/>
<polygon points="355.10,372.85 356.21,374.77 358.43,374.77 357.32,376.70 358.43,378.62 356.21,378.62 355.10,380.55 353.99,378.62 351.77,378.62 352.88,376.70 351.77,374.77 353.99,374.77" fill="#fd8d3c" stroke="#000" stroke-width="0.7" stroke-linejoin="miter"/>
<polygon points="348.40,382.00 351.55,386.10 348.40,390.20 345.25,386.10" fill="#fd8d3c" stroke="#000" stroke-width="0.7" stroke-linejoin="miter"/>
<polygon points="349.40,385.85 350.51,387.77 352.73,387.77 351.62,389.70 352.73,391.62 350.51,391.62 349.40,393.55 348.29,391.62 346.07,391.62 347.18,389.70 346.07,387.77 348.29,387.77" fill="#e6550d" stroke="#000" stroke-width="0.7" stroke-linejoin="miter"/>
<polygon points="379.60,390.80 373.20,387.05 373.20,394.55" fill="#fd8d3c" stroke="#000" stroke-width="0.7" stroke-linejoin="miter"/>
<polygon points="341.10,401.00 334.70,397.25 334.70,404.75" fill="#fd8d3c" stroke="#000" stroke-width="0.7" stroke-linejoin="miter"/>
<text x="271.40" y="449.0" font-size="10.6" text-anchor="middle">0</text>
<text x="320.93" y="449.0" font-size="10.6" text-anchor="middle">10</text>
<text x="369.76" y="449.0" font-size="10.6" text-anchor="middle">20</text>
<text x="418.59" y="449.0" font-size="10.6" text-anchor="middle">30</text>
<text x="269.30" y="441.60" font-size="10.6" text-anchor="end">0</text>
<text x="269.30" y="384.97" font-size="10.6" text-anchor="end">20</text>
<text x="269.30" y="328.33" font-size="10.6" text-anchor="end">40</text>
<text x="269.30" y="271.70" font-size="10.6" text-anchor="end">60</text>
<text x="427.20" y="284.50" font-size="12.5" text-anchor="middle">(e)</text>
<text x="357.55" y="464.30" font-size="10" text-anchor="middle"><tspan font-style="italic">P</tspan><tspan font-size="5.6" dy="3" font-style="italic">r</tspan><tspan dy="-3" dx="0.6"> (μC/cm</tspan><tspan font-size="5.8" dy="-3.6">2</tspan><tspan dy="3.6">)</tspan></text>
<text transform="translate(245.00,353.30) rotate(-90)" font-size="10" text-anchor="middle"><tspan font-style="italic" font-size="8.8">ε</tspan><tspan font-size="6.2" dy="2.6" font-style="italic">FE</tspan></text>
<rect x="511.3" y="268.3" width="170.7" height="169.89999999999998" fill="none" stroke="#222" stroke-width="1.25"/>
<line x1="535.69" y1="438.2" x2="535.69" y2="435.4" stroke="#222" stroke-width="0.9"/>
<line x1="535.69" y1="268.3" x2="535.69" y2="271.1" stroke="#222" stroke-width="0.9"/>
<line x1="560.07" y1="438.2" x2="560.07" y2="435.4" stroke="#222" stroke-width="0.9"/>
<line x1="560.07" y1="268.3" x2="560.07" y2="271.1" stroke="#222" stroke-width="0.9"/>
<line x1="584.46" y1="438.2" x2="584.46" y2="435.4" stroke="#222" stroke-width="0.9"/>
<line x1="584.46" y1="268.3" x2="584.46" y2="271.1" stroke="#222" stroke-width="0.9"/>
<line x1="608.84" y1="438.2" x2="608.84" y2="435.4" stroke="#222" stroke-width="0.9"/>
<line x1="608.84" y1="268.3" x2="608.84" y2="271.1" stroke="#222" stroke-width="0.9"/>
<line x1="633.23" y1="438.2" x2="633.23" y2="435.4" stroke="#222" stroke-width="0.9"/>
<line x1="633.23" y1="268.3" x2="633.23" y2="271.1" stroke="#222" stroke-width="0.9"/>
<line x1="657.61" y1="438.2" x2="657.61" y2="435.4" stroke="#222" stroke-width="0.9"/>
<line x1="657.61" y1="268.3" x2="657.61" y2="271.1" stroke="#222" stroke-width="0.9"/>
<line x1="511.3" y1="409.88" x2="514.1" y2="409.88" stroke="#222" stroke-width="0.9"/>
<line x1="682.0" y1="409.88" x2="679.2" y2="409.88" stroke="#222" stroke-width="0.9"/>
<line x1="511.3" y1="381.57" x2="514.1" y2="381.57" stroke="#222" stroke-width="0.9"/>
<line x1="682.0" y1="381.57" x2="679.2" y2="381.57" stroke="#222" stroke-width="0.9"/>
<line x1="511.3" y1="353.25" x2="514.1" y2="353.25" stroke="#222" stroke-width="0.9"/>
<line x1="682.0" y1="353.25" x2="679.2" y2="353.25" stroke="#222" stroke-width="0.9"/>
<line x1="511.3" y1="324.93" x2="514.1" y2="324.93" stroke="#222" stroke-width="0.9"/>
<line x1="682.0" y1="324.93" x2="679.2" y2="324.93" stroke="#222" stroke-width="0.9"/>
<line x1="511.3" y1="296.62" x2="514.1" y2="296.62" stroke="#222" stroke-width="0.9"/>
<line x1="682.0" y1="296.62" x2="679.2" y2="296.62" stroke="#222" stroke-width="0.9"/>
<circle cx="564.80" cy="304.80" r="3.15" fill="#31a354" stroke="#000" stroke-width="0.7" stroke-linejoin="miter"/>
<polygon points="560.50,327.40 566.90,323.65 566.90,331.15" fill="#6baed6" stroke="#000" stroke-width="0.7" stroke-linejoin="miter"/>
<polygon points="524.60,334.80 531.00,331.05 531.00,338.55" fill="#fd8d3c" stroke="#000" stroke-width="0.7" stroke-linejoin="miter"/>
<polygon points="532.50,351.80 538.90,348.05 538.90,355.55" fill="#c6dbef" stroke="#000" stroke-width="0.7" stroke-linejoin="miter"/>
<polygon points="540.40,350.60 546.80,346.85 546.80,354.35" fill="#fd8d3c" stroke="#000" stroke-width="0.7" stroke-linejoin="miter"/>
<polygon points="523.70,353.25 524.81,355.18 527.03,355.18 525.92,357.10 527.03,359.03 524.81,359.03 523.70,360.95 522.59,359.03 520.37,359.03 521.48,357.10 520.37,355.18 522.59,355.18" fill="#fd8d3c" stroke="#000" stroke-width="0.7" stroke-linejoin="miter"/>
<circle cx="540.20" cy="358.50" r="3.15" fill="#31a354" stroke="#000" stroke-width="0.7" stroke-linejoin="miter"/>
<circle cx="565.60" cy="352.30" r="3.15" fill="#c6dbef" stroke="#000" stroke-width="0.7" stroke-linejoin="miter"/>
<polygon points="556.80,362.60 560.55,356.20 553.05,356.20" fill="#fd8d3c" stroke="#000" stroke-width="0.7" stroke-linejoin="miter"/>
<polygon points="568.30,359.60 561.90,355.85 561.90,363.35" fill="#756bb1" stroke="#000" stroke-width="0.7" stroke-linejoin="miter"/>
<circle cx="531.10" cy="373.90" r="3.15" fill="#31a354" stroke="#000" stroke-width="0.7" stroke-linejoin="miter"/>
<polygon points="540.90,369.45 542.01,371.38 544.23,371.38 543.12,373.30 544.23,375.23 542.01,375.23 540.90,377.15 539.79,375.23 537.57,375.23 538.68,373.30 537.57,371.38 539.79,371.38" fill="#fd8d3c" stroke="#000" stroke-width="0.7" stroke-linejoin="miter"/>
<polygon points="546.60,366.05 547.71,367.97 549.93,367.97 548.82,369.90 549.93,371.82 547.71,371.82 546.60,373.75 545.49,371.82 543.27,371.82 544.38,369.90 543.27,367.97 545.49,367.97" fill="#fd8d3c" stroke="#000" stroke-width="0.7" stroke-linejoin="miter"/>
<polygon points="552.20,371.35 553.31,373.27 555.53,373.27 554.42,375.20 555.53,377.12 553.31,377.12 552.20,379.05 551.09,377.12 548.87,377.12 549.98,375.20 548.87,373.27 551.09,373.27" fill="#e6550d" stroke="#000" stroke-width="0.7" stroke-linejoin="miter"/>
<polygon points="561.50,370.25 562.61,372.18 564.83,372.18 563.72,374.10 564.83,376.03 562.61,376.03 561.50,377.95 560.39,376.03 558.17,376.03 559.28,374.10 558.17,372.18 560.39,372.18" fill="#fd8d3c" stroke="#000" stroke-width="0.7" stroke-linejoin="miter"/>
<polygon points="581.70,401.00 575.30,397.25 575.30,404.75" fill="#fd8d3c" stroke="#000" stroke-width="0.7" stroke-linejoin="miter"/>
<polygon points="628.40,272.85 629.51,274.77 631.73,274.77 630.62,276.70 631.73,278.62 629.51,278.62 628.40,280.55 627.29,278.62 625.07,278.62 626.18,276.70 625.07,274.77 627.29,274.77" fill="#fd8d3c" stroke="#000" stroke-width="0.7" stroke-linejoin="miter"/>
<polygon points="628.40,282.85 629.51,284.77 631.73,284.77 630.62,286.70 631.73,288.62 629.51,288.62 628.40,290.55 627.29,288.62 625.07,288.62 626.18,286.70 625.07,284.77 627.29,284.77" fill="#fdae6b" stroke="#000" stroke-width="0.7" stroke-linejoin="miter"/>
<polygon points="620.00,303.50 623.75,309.90 616.25,309.90" fill="#fd8d3c" stroke="#000" stroke-width="0.7" stroke-linejoin="miter"/>
<polygon points="605.20,307.25 606.31,309.18 608.53,309.18 607.42,311.10 608.53,313.03 606.31,313.03 605.20,314.95 604.09,313.03 601.87,313.03 602.98,311.10 601.87,309.18 604.09,309.18" fill="#fd8d3c" stroke="#000" stroke-width="0.7" stroke-linejoin="miter"/>
<polygon points="590.90,314.00 594.65,320.40 587.15,320.40" fill="#fd8d3c" stroke="#000" stroke-width="0.7" stroke-linejoin="miter"/>
<polygon points="590.90,310.20 594.65,316.60 587.15,316.60" fill="#fd8d3c" stroke="#000" stroke-width="0.7" stroke-linejoin="miter"/>
<polygon points="581.00,316.05 582.11,317.97 584.33,317.97 583.22,319.90 584.33,321.82 582.11,321.82 581.00,323.75 579.89,321.82 577.67,321.82 578.78,319.90 577.67,317.97 579.89,317.97" fill="#fd8d3c" stroke="#000" stroke-width="0.7" stroke-linejoin="miter"/>
<polygon points="600.40,314.85 601.51,316.77 603.73,316.77 602.62,318.70 603.73,320.62 601.51,320.62 600.40,322.55 599.29,320.62 597.07,320.62 598.18,318.70 597.07,316.77 599.29,316.77" fill="#74c476" stroke="#000" stroke-width="0.7" stroke-linejoin="miter"/>
<polygon points="613.80,315.25 614.91,317.18 617.13,317.18 616.02,319.10 617.13,321.03 614.91,321.03 613.80,322.95 612.69,321.03 610.47,321.03 611.58,319.10 610.47,317.18 612.69,317.18" fill="#fdd0a2" stroke="#000" stroke-width="0.7" stroke-linejoin="miter"/>
<polygon points="620.20,316.05 621.31,317.97 623.53,317.97 622.42,319.90 623.53,321.82 621.31,321.82 620.20,323.75 619.09,321.82 616.87,321.82 617.98,319.90 616.87,317.97 619.09,317.97" fill="#9ecae1" stroke="#000" stroke-width="0.7" stroke-linejoin="miter"/>
<polygon points="584.40,333.95 585.51,335.88 587.73,335.88 586.62,337.80 587.73,339.73 585.51,339.73 584.40,341.65 583.29,339.73 581.07,339.73 582.18,337.80 581.07,335.88 583.29,335.88" fill="#a1d99b" stroke="#000" stroke-width="0.7" stroke-linejoin="miter"/>
<rect x="590.60" y="334.40" width="5.00" height="5.00" fill="#fd8d3c" stroke="#000" stroke-width="0.7" stroke-linejoin="miter"/>
<polygon points="612.20,336.35 613.31,338.27 615.53,338.27 614.42,340.20 615.53,342.12 613.31,342.12 612.20,344.05 611.09,342.12 608.87,342.12 609.98,340.20 608.87,338.27 611.09,338.27" fill="#e6550d" stroke="#000" stroke-width="0.7" stroke-linejoin="miter"/>
<polygon points="606.40,327.35 607.51,329.27 609.73,329.27 608.62,331.20 609.73,333.12 607.51,333.12 606.40,335.05 605.29,333.12 603.07,333.12 604.18,331.20 603.07,329.27 605.29,329.27" fill="#fd8d3c" stroke="#000" stroke-width="0.7" stroke-linejoin="miter"/>
<polygon points="610.00,332.05 611.11,333.97 613.33,333.97 612.22,335.90 613.33,337.82 611.11,337.82 610.00,339.75 608.89,337.82 606.67,337.82 607.78,335.90 606.67,333.97 608.89,333.97" fill="#fd8d3c" stroke="#000" stroke-width="0.7" stroke-linejoin="miter"/>
<polygon points="618.40,330.15 619.51,332.07 621.73,332.07 620.62,334.00 621.73,335.93 619.51,335.93 618.40,337.85 617.29,335.93 615.07,335.93 616.18,334.00 615.07,332.07 617.29,332.07" fill="#fd8d3c" stroke="#000" stroke-width="0.7" stroke-linejoin="miter"/>
<polygon points="615.20,334.35 616.31,336.27 618.53,336.27 617.42,338.20 618.53,340.12 616.31,340.12 615.20,342.05 614.09,340.12 611.87,340.12 612.98,338.20 611.87,336.27 614.09,336.27" fill="#fd8d3c" stroke="#000" stroke-width="0.7" stroke-linejoin="miter"/>
<polygon points="618.70,342.60 622.45,349.00 614.95,349.00" fill="#fd8d3c" stroke="#000" stroke-width="0.7" stroke-linejoin="miter"/>
<polygon points="634.10,345.40 627.70,341.65 627.70,349.15" fill="#fd8d3c" stroke="#000" stroke-width="0.7" stroke-linejoin="miter"/>
<polygon points="627.90,355.60 631.65,349.20 624.15,349.20" fill="#fd8d3c" stroke="#000" stroke-width="0.7" stroke-linejoin="miter"/>
<polygon points="632.20,349.65 633.31,351.57 635.53,351.57 634.42,353.50 635.53,355.43 633.31,355.43 632.20,357.35 631.09,355.43 628.87,355.43 629.98,353.50 628.87,351.57 631.09,351.57" fill="#fd8d3c" stroke="#000" stroke-width="0.7" stroke-linejoin="miter"/>
<polygon points="646.00,346.45 647.11,348.38 649.33,348.38 648.22,350.30 649.33,352.23 647.11,352.23 646.00,354.15 644.89,352.23 642.67,352.23 643.78,350.30 642.67,348.38 644.89,348.38" fill="#fd8d3c" stroke="#000" stroke-width="0.7" stroke-linejoin="miter"/>
<polygon points="647.60,346.35 648.71,348.27 650.93,348.27 649.82,350.20 650.93,352.12 648.71,352.12 647.60,354.05 646.49,352.12 644.27,352.12 645.38,350.20 644.27,348.27 646.49,348.27" fill="#c7e9c0" stroke="#000" stroke-width="0.7" stroke-linejoin="miter"/>
<polygon points="652.70,330.55 653.81,332.47 656.03,332.47 654.92,334.40 656.03,336.32 653.81,336.32 652.70,338.25 651.59,336.32 649.37,336.32 650.48,334.40 649.37,332.47 651.59,332.47" fill="#fd8d3c" stroke="#000" stroke-width="0.7" stroke-linejoin="miter"/>
<polygon points="642.20,317.40 635.80,313.65 635.80,321.15" fill="#fd8d3c" stroke="#000" stroke-width="0.7" stroke-linejoin="miter"/>
<polygon points="608.30,355.40 601.90,351.65 601.90,359.15" fill="#3182bd" stroke="#000" stroke-width="0.7" stroke-linejoin="miter"/>
<polygon points="612.30,352.95 613.41,354.88 615.63,354.88 614.52,356.80 615.63,358.73 613.41,358.73 612.30,360.65 611.19,358.73 608.97,358.73 610.08,356.80 608.97,354.88 611.19,354.88" fill="#fd8d3c" stroke="#000" stroke-width="0.7" stroke-linejoin="miter"/>
<polygon points="615.50,360.10 609.10,356.35 609.10,363.85" fill="#fd8d3c" stroke="#000" stroke-width="0.7" stroke-linejoin="miter"/>
<polygon points="594.10,357.75 595.21,359.68 597.43,359.68 596.32,361.60 597.43,363.53 595.21,363.53 594.10,365.45 592.99,363.53 590.77,363.53 591.88,361.60 590.77,359.68 592.99,359.68" fill="#fd8d3c" stroke="#000" stroke-width="0.7" stroke-linejoin="miter"/>
<polygon points="596.50,356.75 597.61,358.68 599.83,358.68 598.72,360.60 599.83,362.53 597.61,362.53 596.50,364.45 595.39,362.53 593.17,362.53 594.28,360.60 593.17,358.68 595.39,358.68" fill="#fd8d3c" stroke="#000" stroke-width="0.7" stroke-linejoin="miter"/>
<rect x="597.30" y="357.20" width="5.00" height="5.00" fill="#fd8d3c" stroke="#000" stroke-width="0.7" stroke-linejoin="miter"/>
<polygon points="639.50,361.40 642.65,365.50 639.50,369.60 636.35,365.50" fill="#fd8d3c" stroke="#000" stroke-width="0.7" stroke-linejoin="miter"/>
<polygon points="614.30,368.20 618.05,374.60 610.55,374.60" fill="#fd8d3c" stroke="#000" stroke-width="0.7" stroke-linejoin="miter"/>
<polygon points="620.40,372.35 621.51,374.27 623.73,374.27 622.62,376.20 623.73,378.12 621.51,378.12 620.40,380.05 619.29,378.12 617.07,378.12 618.18,376.20 617.07,374.27 619.29,374.27" fill="#c6dbef" stroke="#000" stroke-width="0.7" stroke-linejoin="miter"/>
<polygon points="602.90,373.15 604.01,375.07 606.23,375.07 605.12,377.00 606.23,378.93 604.01,378.93 602.90,380.85 601.79,378.93 599.57,378.93 600.68,377.00 599.57,375.07 601.79,375.07" fill="#fd8d3c" stroke="#000" stroke-width="0.7" stroke-linejoin="miter"/>
<polygon points="588.30,383.30 591.45,387.40 588.30,391.50 585.15,387.40" fill="#fd8d3c" stroke="#000" stroke-width="0.7" stroke-linejoin="miter"/>
<polygon points="611.70,385.95 612.81,387.88 615.03,387.88 613.92,389.80 615.03,391.73 612.81,391.73 611.70,393.65 610.59,391.73 608.37,391.73 609.48,389.80 608.37,387.88 610.59,387.88" fill="#e6550d" stroke="#000" stroke-width="0.7" stroke-linejoin="miter"/>
<polygon points="628.70,390.90 622.30,387.15 622.30,394.65" fill="#fd8d3c" stroke="#000" stroke-width="0.7" stroke-linejoin="miter"/>
<text x="510.60" y="449.0" font-size="10.6" text-anchor="middle">0</text>
<text x="560.07" y="449.0" font-size="10.6" text-anchor="middle">10</text>
<text x="608.84" y="449.0" font-size="10.6" text-anchor="middle">20</text>
<text x="657.61" y="449.0" font-size="10.6" text-anchor="middle">30</text>
<text x="508.00" y="441.60" font-size="10.6" text-anchor="end">0</text>
<text x="508.00" y="384.97" font-size="10.6" text-anchor="end">20</text>
<text x="508.00" y="328.33" font-size="10.6" text-anchor="end">40</text>
<text x="508.00" y="271.70" font-size="10.6" text-anchor="end">60</text>
<text x="666.20" y="284.50" font-size="12.5" text-anchor="middle">(f)</text>
<text x="596.65" y="464.30" font-size="10" text-anchor="middle"><tspan font-style="italic">P</tspan><tspan font-size="5.6" dy="3" font-style="italic">s</tspan><tspan dy="-3" dx="0.6"> (μC/cm</tspan><tspan font-size="5.8" dy="-3.6">2</tspan><tspan dy="3.6">)</tspan></text>
<text transform="translate(483.90,353.30) rotate(-90)" font-size="10" text-anchor="middle"><tspan font-style="italic" font-size="8.8">ε</tspan><tspan font-size="6.2" dy="2.6" font-style="italic">FE</tspan></text>
</svg></body></html>
